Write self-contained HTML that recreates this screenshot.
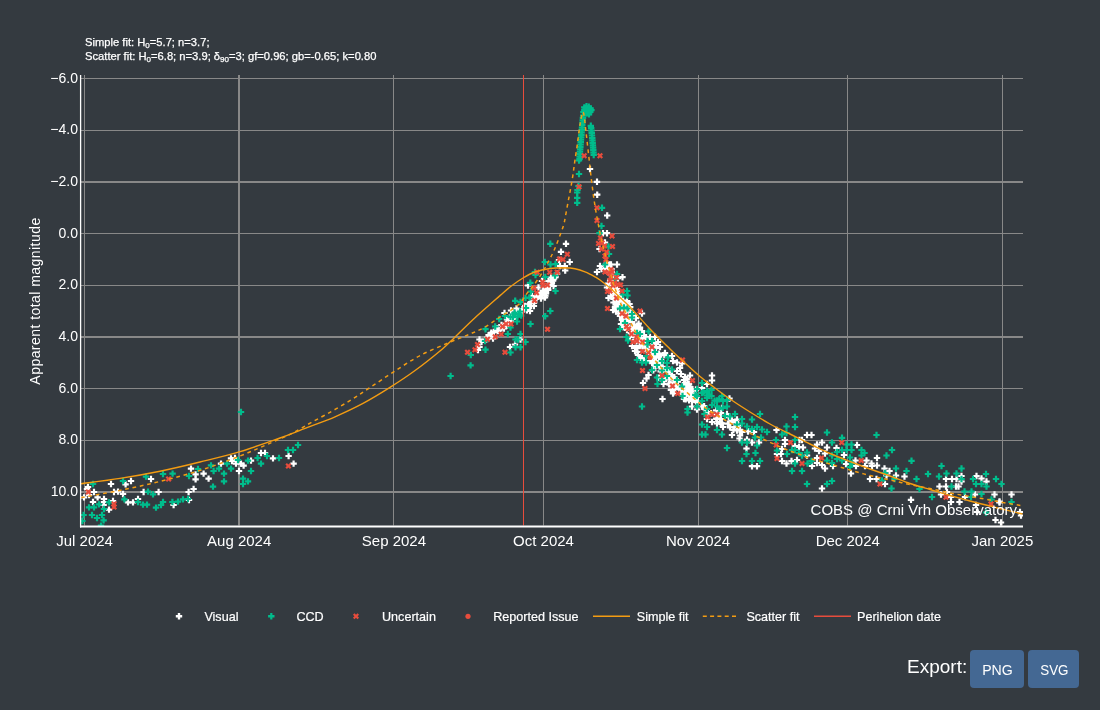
<!DOCTYPE html>
<html lang="en"><head><meta charset="utf-8"><title>Comet light curve</title>
<style>
html,body{margin:0;padding:0;background:#343a40;}
body{width:1100px;height:710px;overflow:hidden;font-family:"Liberation Sans",sans-serif;}
svg{display:block;position:absolute;left:0;top:0;will-change:transform;}
svg text{font-family:"Liberation Sans",sans-serif;}
</style></head><body>
<svg width="1100" height="710" viewBox="0 0 1100 710">
<rect x="0" y="0" width="1100" height="710" fill="#343a40"/>
<rect x="84" y="75" width="1" height="450.5" fill="#888888"/>
<rect x="238" y="75" width="2" height="450.5" fill="#888888"/>
<rect x="393" y="75" width="1" height="450.5" fill="#888888"/>
<rect x="543" y="75" width="1" height="450.5" fill="#888888"/>
<rect x="698" y="75" width="1" height="450.5" fill="#888888"/>
<rect x="847" y="75" width="1" height="450.5" fill="#888888"/>
<rect x="1002" y="75" width="1" height="450.5" fill="#888888"/>
<rect x="81" y="78" width="942" height="1" fill="#888888"/>
<rect x="81" y="130" width="942" height="1" fill="#888888"/>
<rect x="81" y="181" width="942" height="2" fill="#888888"/>
<rect x="81" y="233" width="942" height="1" fill="#888888"/>
<rect x="81" y="285" width="942" height="1" fill="#888888"/>
<rect x="81" y="336" width="942" height="2" fill="#888888"/>
<rect x="81" y="388" width="942" height="1" fill="#888888"/>
<rect x="81" y="440" width="942" height="1" fill="#888888"/>
<rect x="81" y="491" width="942" height="2" fill="#888888"/>
<clipPath id="pc"><rect x="81" y="75" width="942" height="451.5"/></clipPath><g clip-path="url(#pc)">
<path d="M482.2,338.5H484.3V336.4H486.5V338.5H488.7V340.7H486.5V342.9H484.3V340.7H482.2Z" fill="#ffffff"/>
<path d="M483.9,337.9H486.1V335.7H488.3V337.9H490.4V340.1H488.3V342.2H486.1V340.1H483.9Z" fill="#ffffff"/>
<path d="M485.4,334.0H487.5V331.9H489.7V334.0H491.8V336.2H489.7V338.3H487.5V336.2H485.4Z" fill="#ffffff"/>
<path d="M487.7,333.2H489.8V331.1H492.0V333.2H494.2V335.4H492.0V337.6H489.8V335.4H487.7Z" fill="#ffffff"/>
<path d="M488.1,331.7H490.2V329.6H492.4V331.7H494.6V333.9H492.4V336.0H490.2V333.9H488.1Z" fill="#ffffff"/>
<path d="M490.6,330.8H492.7V328.7H494.9V330.8H497.1V333.0H494.9V335.2H492.7V333.0H490.6Z" fill="#ffffff"/>
<path d="M493.2,329.0H495.3V326.9H497.5V329.0H499.7V331.2H497.5V333.4H495.3V331.2H493.2Z" fill="#ffffff"/>
<path d="M494.1,327.0H496.2V324.9H498.4V327.0H500.5V329.2H498.4V331.4H496.2V329.2H494.1Z" fill="#ffffff"/>
<path d="M498.4,327.2H500.5V325.1H502.7V327.2H504.8V329.4H502.7V331.5H500.5V329.4H498.4Z" fill="#ffffff"/>
<path d="M498.2,324.0H500.4V321.8H502.6V324.0H504.7V326.2H502.6V328.3H500.4V326.2H498.2Z" fill="#ffffff"/>
<path d="M503.4,324.7H505.6V322.5H507.8V324.7H509.9V326.9H507.8V329.0H505.6V326.9H503.4Z" fill="#ffffff"/>
<path d="M502.8,322.5H504.9V320.4H507.1V322.5H509.2V324.7H507.1V326.9H504.9V324.7H502.8Z" fill="#ffffff"/>
<path d="M504.5,321.4H506.6V319.3H508.8V321.4H510.9V323.6H508.8V325.7H506.6V323.6H504.5Z" fill="#ffffff"/>
<path d="M507.6,318.9H509.7V316.8H511.9V318.9H514.1V321.1H511.9V323.3H509.7V321.1H507.6Z" fill="#ffffff"/>
<path d="M506.5,316.1H508.7V314.0H510.9V316.1H513.0V318.3H510.9V320.4H508.7V318.3H506.5Z" fill="#ffffff"/>
<path d="M509.3,315.1H511.4V312.9H513.6V315.1H515.8V317.3H513.6V319.4H511.4V317.3H509.3Z" fill="#ffffff"/>
<path d="M512.5,314.7H514.7V312.6H516.9V314.7H519.0V316.9H516.9V319.1H514.7V316.9H512.5Z" fill="#ffffff"/>
<path d="M513.6,313.5H515.7V311.4H517.9V313.5H520.1V315.7H517.9V317.9H515.7V315.7H513.6Z" fill="#ffffff"/>
<path d="M515.5,310.3H517.7V308.1H519.9V310.3H522.0V312.5H519.9V314.6H517.7V312.5H515.5Z" fill="#ffffff"/>
<path d="M518.4,310.5H520.5V308.3H522.7V310.5H524.8V312.7H522.7V314.8H520.5V312.7H518.4Z" fill="#ffffff"/>
<path d="M519.1,308.0H521.3V305.9H523.5V308.0H525.6V310.2H523.5V312.4H521.3V310.2H519.1Z" fill="#ffffff"/>
<path d="M523.6,309.1H525.8V307.0H528.0V309.1H530.1V311.3H528.0V313.5H525.8V311.3H523.6Z" fill="#ffffff"/>
<path d="M522.0,304.8H524.1V302.7H526.3V304.8H528.5V307.0H526.3V309.1H524.1V307.0H522.0Z" fill="#ffffff"/>
<path d="M525.6,303.2H527.8V301.0H530.0V303.2H532.1V305.4H530.0V307.5H527.8V305.4H525.6Z" fill="#ffffff"/>
<path d="M527.1,301.8H529.3V299.7H531.5V301.8H533.6V304.0H531.5V306.1H529.3V304.0H527.1Z" fill="#ffffff"/>
<path d="M530.6,304.9H532.8V302.7H535.0V304.9H537.1V307.1H535.0V309.2H532.8V307.1H530.6Z" fill="#ffffff"/>
<path d="M531.0,300.2H533.1V298.1H535.3V300.2H537.4V302.4H535.3V304.6H533.1V302.4H531.0Z" fill="#ffffff"/>
<path d="M532.4,297.9H534.5V295.8H536.7V297.9H538.9V300.1H536.7V302.3H534.5V300.1H532.4Z" fill="#ffffff"/>
<path d="M533.2,296.8H535.3V294.7H537.5V296.8H539.7V299.0H537.5V301.1H535.3V299.0H533.2Z" fill="#ffffff"/>
<path d="M535.4,293.8H537.6V291.6H539.8V293.8H541.9V296.0H539.8V298.1H537.6V296.0H535.4Z" fill="#ffffff"/>
<path d="M538.8,293.0H540.9V290.8H543.1V293.0H545.2V295.2H543.1V297.3H540.9V295.2H538.8Z" fill="#ffffff"/>
<path d="M542.1,294.5H544.2V292.4H546.4V294.5H548.6V296.7H546.4V298.9H544.2V296.7H542.1Z" fill="#ffffff"/>
<path d="M539.9,289.4H542.1V287.2H544.3V289.4H546.4V291.6H544.3V293.7H542.1V291.6H539.9Z" fill="#ffffff"/>
<path d="M544.9,288.9H547.0V286.8H549.2V288.9H551.4V291.1H549.2V293.2H547.0V291.1H544.9Z" fill="#ffffff"/>
<path d="M544.7,287.2H546.8V285.1H549.0V287.2H551.2V289.4H549.0V291.6H546.8V289.4H544.7Z" fill="#ffffff"/>
<path d="M546.2,284.7H548.3V282.6H550.5V284.7H552.7V286.9H550.5V289.1H548.3V286.9H546.2Z" fill="#ffffff"/>
<path d="M550.3,284.9H552.5V282.7H554.7V284.9H556.8V287.1H554.7V289.2H552.5V287.1H550.3Z" fill="#ffffff"/>
<path d="M548.6,281.8H550.8V279.7H553.0V281.8H555.1V284.0H553.0V286.2H550.8V284.0H548.6Z" fill="#ffffff"/>
<path d="M549.8,279.5H551.9V277.4H554.1V279.5H556.3V281.7H554.1V283.8H551.9V281.7H549.8Z" fill="#ffffff"/>
<path d="M550.8,277.2H552.9V275.0H555.1V277.2H557.3V279.4H555.1V281.5H552.9V279.4H550.8Z" fill="#ffffff"/>
<path d="M552.2,276.0H554.3V273.8H556.5V276.0H558.7V278.2H556.5V280.3H554.3V278.2H552.2Z" fill="#ffffff"/>
<path d="M553.8,272.6H556.0V270.4H558.2V272.6H560.3V274.8H558.2V276.9H556.0V274.8H553.8Z" fill="#ffffff"/>
<path d="M603.6,262.2H605.7V260.0H607.9V262.2H610.1V264.4H607.9V266.5H605.7V264.4H603.6Z" fill="#ffffff"/>
<path d="M602.6,264.3H604.8V262.2H607.0V264.3H609.1V266.5H607.0V268.6H604.8V266.5H602.6Z" fill="#ffffff"/>
<path d="M606.0,263.4H608.2V261.3H610.4V263.4H612.5V265.6H610.4V267.8H608.2V265.6H606.0Z" fill="#ffffff"/>
<path d="M604.1,265.9H606.3V263.8H608.5V265.9H610.6V268.1H608.5V270.2H606.3V268.1H604.1Z" fill="#ffffff"/>
<path d="M604.2,266.8H606.3V264.7H608.5V266.8H610.7V269.0H608.5V271.2H606.3V269.0H604.2Z" fill="#ffffff"/>
<path d="M606.1,266.9H608.3V264.7H610.5V266.9H612.6V269.1H610.5V271.2H608.3V269.1H606.1Z" fill="#ffffff"/>
<path d="M602.6,268.9H604.7V266.8H606.9V268.9H609.1V271.1H606.9V273.3H604.7V271.1H602.6Z" fill="#ffffff"/>
<path d="M608.3,268.0H610.4V265.8H612.6V268.0H614.7V270.2H612.6V272.3H610.4V270.2H608.3Z" fill="#ffffff"/>
<path d="M605.9,269.8H608.0V267.6H610.2V269.8H612.3V272.0H610.2V274.1H608.0V272.0H605.9Z" fill="#ffffff"/>
<path d="M605.2,271.3H607.4V269.2H609.6V271.3H611.7V273.5H609.6V275.6H607.4V273.5H605.2Z" fill="#ffffff"/>
<path d="M606.6,272.0H608.8V269.9H611.0V272.0H613.1V274.2H611.0V276.4H608.8V274.2H606.6Z" fill="#ffffff"/>
<path d="M606.7,272.9H608.9V270.7H611.1V272.9H613.2V275.1H611.1V277.2H608.9V275.1H606.7Z" fill="#ffffff"/>
<path d="M610.5,272.8H612.6V270.6H614.8V272.8H617.0V275.0H614.8V277.1H612.6V275.0H610.5Z" fill="#ffffff"/>
<path d="M609.0,274.5H611.2V272.4H613.4V274.5H615.5V276.7H613.4V278.9H611.2V276.7H609.0Z" fill="#ffffff"/>
<path d="M609.4,275.3H611.5V273.1H613.7V275.3H615.9V277.5H613.7V279.6H611.5V277.5H609.4Z" fill="#ffffff"/>
<path d="M609.4,275.8H611.5V273.7H613.7V275.8H615.9V278.0H613.7V280.2H611.5V278.0H609.4Z" fill="#ffffff"/>
<path d="M607.2,278.4H609.3V276.2H611.5V278.4H613.7V280.6H611.5V282.7H609.3V280.6H607.2Z" fill="#ffffff"/>
<path d="M614.7,277.1H616.9V275.0H619.1V277.1H621.2V279.3H619.1V281.5H616.9V279.3H614.7Z" fill="#ffffff"/>
<path d="M609.9,279.1H612.0V277.0H614.2V279.1H616.4V281.3H614.2V283.4H612.0V281.3H609.9Z" fill="#ffffff"/>
<path d="M608.2,280.9H610.4V278.7H612.6V280.9H614.7V283.1H612.6V285.2H610.4V283.1H608.2Z" fill="#ffffff"/>
<path d="M607.3,281.6H609.4V279.4H611.6V281.6H613.8V283.8H611.6V285.9H609.4V283.8H607.3Z" fill="#ffffff"/>
<path d="M608.6,282.3H610.8V280.2H613.0V282.3H615.1V284.5H613.0V286.7H610.8V284.5H608.6Z" fill="#ffffff"/>
<path d="M609.8,283.2H611.9V281.1H614.1V283.2H616.3V285.4H614.1V287.6H611.9V285.4H609.8Z" fill="#ffffff"/>
<path d="M610.1,284.0H612.2V281.8H614.4V284.0H616.6V286.2H614.4V288.3H612.2V286.2H610.1Z" fill="#ffffff"/>
<path d="M610.9,284.7H613.0V282.6H615.2V284.7H617.4V286.9H615.2V289.0H613.0V286.9H610.9Z" fill="#ffffff"/>
<path d="M610.5,286.7H612.6V284.5H614.8V286.7H617.0V288.9H614.8V291.0H612.6V288.9H610.5Z" fill="#ffffff"/>
<path d="M609.9,287.7H612.0V285.5H614.2V287.7H616.4V289.9H614.2V292.0H612.0V289.9H609.9Z" fill="#ffffff"/>
<path d="M609.7,288.5H611.8V286.4H614.0V288.5H616.1V290.7H614.0V292.9H611.8V290.7H609.7Z" fill="#ffffff"/>
<path d="M607.6,290.3H609.8V288.2H612.0V290.3H614.1V292.5H612.0V294.7H609.8V292.5H607.6Z" fill="#ffffff"/>
<path d="M608.3,291.8H610.4V289.7H612.6V291.8H614.8V294.0H612.6V296.2H610.4V294.0H608.3Z" fill="#ffffff"/>
<path d="M613.8,290.3H616.0V288.2H618.2V290.3H620.3V292.5H618.2V294.6H616.0V292.5H613.8Z" fill="#ffffff"/>
<path d="M612.6,291.4H614.8V289.3H617.0V291.4H619.1V293.6H617.0V295.7H614.8V293.6H612.6Z" fill="#ffffff"/>
<path d="M613.7,292.3H615.8V290.2H618.0V292.3H620.2V294.5H618.0V296.7H615.8V294.5H613.7Z" fill="#ffffff"/>
<path d="M607.8,295.3H610.0V293.2H612.2V295.3H614.3V297.5H612.2V299.7H610.0V297.5H607.8Z" fill="#ffffff"/>
<path d="M610.2,295.3H612.4V293.2H614.6V295.3H616.7V297.5H614.6V299.7H612.4V297.5H610.2Z" fill="#ffffff"/>
<path d="M615.2,294.7H617.4V292.6H619.6V294.7H621.7V296.9H619.6V299.0H617.4V296.9H615.2Z" fill="#ffffff"/>
<path d="M611.0,297.7H613.1V295.6H615.3V297.7H617.4V299.9H615.3V302.1H613.1V299.9H611.0Z" fill="#ffffff"/>
<path d="M614.5,298.0H616.6V295.8H618.8V298.0H620.9V300.2H618.8V302.3H616.6V300.2H614.5Z" fill="#ffffff"/>
<path d="M616.2,298.3H618.3V296.1H620.5V298.3H622.6V300.5H620.5V302.6H618.3V300.5H616.2Z" fill="#ffffff"/>
<path d="M617.8,298.2H619.9V296.1H622.1V298.2H624.2V300.4H622.1V302.6H619.9V300.4H617.8Z" fill="#ffffff"/>
<path d="M615.3,300.0H617.4V297.8H619.6V300.0H621.8V302.2H619.6V304.3H617.4V302.2H615.3Z" fill="#ffffff"/>
<path d="M619.9,299.5H622.0V297.3H624.2V299.5H626.3V301.7H624.2V303.8H622.0V301.7H619.9Z" fill="#ffffff"/>
<path d="M615.8,302.3H617.9V300.1H620.1V302.3H622.3V304.5H620.1V306.6H617.9V304.5H615.8Z" fill="#ffffff"/>
<path d="M612.4,306.0H614.5V303.8H616.7V306.0H618.8V308.2H616.7V310.3H614.5V308.2H612.4Z" fill="#ffffff"/>
<path d="M616.0,305.0H618.2V302.8H620.4V305.0H622.5V307.2H620.4V309.3H618.2V307.2H616.0Z" fill="#ffffff"/>
<path d="M623.2,302.2H625.3V300.0H627.5V302.2H629.6V304.4H627.5V306.5H625.3V304.4H623.2Z" fill="#ffffff"/>
<path d="M621.1,303.8H623.3V301.6H625.5V303.8H627.6V306.0H625.5V308.1H623.3V306.0H621.1Z" fill="#ffffff"/>
<path d="M619.1,305.7H621.3V303.6H623.5V305.7H625.6V307.9H623.5V310.1H621.3V307.9H619.1Z" fill="#ffffff"/>
<path d="M619.7,306.5H621.9V304.4H624.1V306.5H626.2V308.7H624.1V310.9H621.9V308.7H619.7Z" fill="#ffffff"/>
<path d="M617.9,309.4H620.1V307.2H622.3V309.4H624.4V311.6H622.3V313.7H620.1V311.6H617.9Z" fill="#ffffff"/>
<path d="M626.9,306.0H629.0V303.9H631.2V306.0H633.4V308.2H631.2V310.3H629.0V308.2H626.9Z" fill="#ffffff"/>
<path d="M619.0,311.4H621.1V309.2H623.3V311.4H625.5V313.6H623.3V315.7H621.1V313.6H619.0Z" fill="#ffffff"/>
<path d="M622.9,310.4H625.1V308.2H627.3V310.4H629.4V312.6H627.3V314.7H625.1V312.6H622.9Z" fill="#ffffff"/>
<path d="M620.2,312.1H622.4V309.9H624.6V312.1H626.7V314.3H624.6V316.4H622.4V314.3H620.2Z" fill="#ffffff"/>
<path d="M621.1,312.7H623.2V310.6H625.4V312.7H627.5V314.9H625.4V317.1H623.2V314.9H621.1Z" fill="#ffffff"/>
<path d="M619.2,315.6H621.3V313.5H623.5V315.6H625.7V317.8H623.5V320.0H621.3V317.8H619.2Z" fill="#ffffff"/>
<path d="M627.5,312.3H629.6V310.1H631.8V312.3H634.0V314.5H631.8V316.6H629.6V314.5H627.5Z" fill="#ffffff"/>
<path d="M623.3,315.6H625.5V313.4H627.7V315.6H629.8V317.8H627.7V319.9H625.5V317.8H623.3Z" fill="#ffffff"/>
<path d="M627.3,313.8H629.4V311.6H631.6V313.8H633.8V316.0H631.6V318.1H629.4V316.0H627.3Z" fill="#ffffff"/>
<path d="M630.1,314.3H632.2V312.2H634.4V314.3H636.5V316.5H634.4V318.7H632.2V316.5H630.1Z" fill="#ffffff"/>
<path d="M627.0,317.0H629.1V314.8H631.3V317.0H633.4V319.2H631.3V321.3H629.1V319.2H627.0Z" fill="#ffffff"/>
<path d="M625.4,318.9H627.5V316.8H629.7V318.9H631.9V321.1H629.7V323.2H627.5V321.1H625.4Z" fill="#ffffff"/>
<path d="M623.5,320.5H625.6V318.3H627.8V320.5H630.0V322.7H627.8V324.8H625.6V322.7H623.5Z" fill="#ffffff"/>
<path d="M632.6,317.0H634.8V314.9H637.0V317.0H639.1V319.2H637.0V321.4H634.8V319.2H632.6Z" fill="#ffffff"/>
<path d="M622.4,323.3H624.6V321.1H626.8V323.3H628.9V325.5H626.8V327.6H624.6V325.5H622.4Z" fill="#ffffff"/>
<path d="M628.6,321.0H630.8V318.9H633.0V321.0H635.1V323.2H633.0V325.3H630.8V323.2H628.6Z" fill="#ffffff"/>
<path d="M623.9,324.4H626.1V322.3H628.3V324.4H630.4V326.6H628.3V328.7H626.1V326.6H623.9Z" fill="#ffffff"/>
<path d="M623.2,326.6H625.4V324.5H627.6V326.6H629.7V328.8H627.6V330.9H625.4V328.8H623.2Z" fill="#ffffff"/>
<path d="M624.7,326.2H626.9V324.1H629.1V326.2H631.2V328.4H629.1V330.6H626.9V328.4H624.7Z" fill="#ffffff"/>
<path d="M635.4,322.6H637.5V320.4H639.7V322.6H641.9V324.8H639.7V326.9H637.5V324.8H635.4Z" fill="#ffffff"/>
<path d="M630.9,325.6H633.0V323.5H635.2V325.6H637.3V327.8H635.2V329.9H633.0V327.8H630.9Z" fill="#ffffff"/>
<path d="M630.2,326.7H632.3V324.5H634.5V326.7H636.6V328.9H634.5V331.0H632.3V328.9H630.2Z" fill="#ffffff"/>
<path d="M632.6,327.5H634.8V325.4H637.0V327.5H639.1V329.7H637.0V331.8H634.8V329.7H632.6Z" fill="#ffffff"/>
<path d="M633.8,327.9H636.0V325.8H638.2V327.9H640.3V330.1H638.2V332.3H636.0V330.1H633.8Z" fill="#ffffff"/>
<path d="M627.7,332.0H629.9V329.8H632.1V332.0H634.2V334.2H632.1V336.3H629.9V334.2H627.7Z" fill="#ffffff"/>
<path d="M635.5,328.4H637.6V326.3H639.8V328.4H641.9V330.6H639.8V332.8H637.6V330.6H635.5Z" fill="#ffffff"/>
<path d="M632.8,331.2H634.9V329.0H637.1V331.2H639.3V333.4H637.1V335.5H634.9V333.4H632.8Z" fill="#ffffff"/>
<path d="M630.9,333.7H633.0V331.6H635.2V333.7H637.4V335.9H635.2V338.1H633.0V335.9H630.9Z" fill="#ffffff"/>
<path d="M634.5,332.5H636.6V330.3H638.8V332.5H641.0V334.7H638.8V336.8H636.6V334.7H634.5Z" fill="#ffffff"/>
<path d="M633.3,335.0H635.4V332.9H637.6V335.0H639.8V337.2H637.6V339.4H635.4V337.2H633.3Z" fill="#ffffff"/>
<path d="M637.8,333.0H639.9V330.8H642.1V333.0H644.3V335.2H642.1V337.3H639.9V335.2H637.8Z" fill="#ffffff"/>
<path d="M634.0,336.9H636.2V334.7H638.4V336.9H640.5V339.1H638.4V341.2H636.2V339.1H634.0Z" fill="#ffffff"/>
<path d="M632.4,338.4H634.5V336.2H636.7V338.4H638.9V340.6H636.7V342.7H634.5V340.6H632.4Z" fill="#ffffff"/>
<path d="M637.4,336.8H639.5V334.6H641.7V336.8H643.9V339.0H641.7V341.1H639.5V339.0H637.4Z" fill="#ffffff"/>
<path d="M633.3,340.3H635.4V338.1H637.6V340.3H639.8V342.5H637.6V344.6H635.4V342.5H633.3Z" fill="#ffffff"/>
<path d="M636.1,339.5H638.3V337.3H640.5V339.5H642.6V341.7H640.5V343.8H638.3V341.7H636.1Z" fill="#ffffff"/>
<path d="M636.3,340.3H638.5V338.2H640.7V340.3H642.8V342.5H640.7V344.7H638.5V342.5H636.3Z" fill="#ffffff"/>
<path d="M640.3,339.4H642.5V337.2H644.7V339.4H646.8V341.6H644.7V343.7H642.5V341.6H640.3Z" fill="#ffffff"/>
<path d="M642.1,339.7H644.2V337.6H646.4V339.7H648.5V341.9H646.4V344.1H644.2V341.9H642.1Z" fill="#ffffff"/>
<path d="M640.3,341.8H642.4V339.7H644.6V341.8H646.8V344.0H644.6V346.2H642.4V344.0H640.3Z" fill="#ffffff"/>
<path d="M639.2,343.8H641.3V341.7H643.5V343.8H645.6V346.0H643.5V348.2H641.3V346.0H639.2Z" fill="#ffffff"/>
<path d="M642.1,343.1H644.2V340.9H646.4V343.1H648.5V345.3H646.4V347.4H644.2V345.3H642.1Z" fill="#ffffff"/>
<path d="M641.7,344.1H643.9V342.0H646.1V344.1H648.2V346.3H646.1V348.5H643.9V346.3H641.7Z" fill="#ffffff"/>
<path d="M634.2,350.7H636.3V348.5H638.5V350.7H640.6V352.9H638.5V355.0H636.3V352.9H634.2Z" fill="#ffffff"/>
<path d="M641.2,347.2H643.3V345.1H645.5V347.2H647.7V349.4H645.5V351.6H643.3V349.4H641.2Z" fill="#ffffff"/>
<path d="M651.4,341.5H653.6V339.3H655.8V341.5H657.9V343.7H655.8V345.8H653.6V343.7H651.4Z" fill="#ffffff"/>
<path d="M647.9,345.2H650.0V343.1H652.2V345.2H654.4V347.4H652.2V349.5H650.0V347.4H647.9Z" fill="#ffffff"/>
<path d="M643.7,349.3H645.8V347.2H648.0V349.3H650.2V351.5H648.0V353.6H645.8V351.5H643.7Z" fill="#ffffff"/>
<path d="M648.6,346.9H650.7V344.8H652.9V346.9H655.0V349.1H652.9V351.3H650.7V349.1H648.6Z" fill="#ffffff"/>
<path d="M645.7,350.5H647.9V348.4H650.1V350.5H652.2V352.7H650.1V354.9H647.9V352.7H645.7Z" fill="#ffffff"/>
<path d="M638.6,357.2H640.8V355.0H643.0V357.2H645.1V359.4H643.0V361.5H640.8V359.4H638.6Z" fill="#ffffff"/>
<path d="M652.1,347.0H654.3V344.9H656.5V347.0H658.6V349.2H656.5V351.4H654.3V349.2H652.1Z" fill="#ffffff"/>
<path d="M639.4,358.9H641.6V356.7H643.8V358.9H645.9V361.1H643.8V363.2H641.6V361.1H639.4Z" fill="#ffffff"/>
<path d="M649.4,351.6H651.5V349.5H653.7V351.6H655.9V353.8H653.7V356.0H651.5V353.8H649.4Z" fill="#ffffff"/>
<path d="M648.8,353.3H650.9V351.2H653.1V353.3H655.3V355.5H653.1V357.7H650.9V355.5H648.8Z" fill="#ffffff"/>
<path d="M647.5,355.8H649.7V353.6H651.9V355.8H654.0V358.0H651.9V360.1H649.7V358.0H647.5Z" fill="#ffffff"/>
<path d="M651.9,353.3H654.0V351.2H656.2V353.3H658.4V355.5H656.2V357.7H654.0V355.5H651.9Z" fill="#ffffff"/>
<path d="M655.7,352.6H657.8V350.5H660.0V352.6H662.2V354.8H660.0V356.9H657.8V354.8H655.7Z" fill="#ffffff"/>
<path d="M651.1,356.6H653.2V354.5H655.4V356.6H657.6V358.8H655.4V361.0H653.2V358.8H651.1Z" fill="#ffffff"/>
<path d="M656.1,353.9H658.2V351.7H660.4V353.9H662.6V356.1H660.4V358.2H658.2V356.1H656.1Z" fill="#ffffff"/>
<path d="M648.9,361.8H651.0V359.7H653.2V361.8H655.3V364.0H653.2V366.2H651.0V364.0H648.9Z" fill="#ffffff"/>
<path d="M652.8,360.1H654.9V357.9H657.1V360.1H659.2V362.3H657.1V364.4H654.9V362.3H652.8Z" fill="#ffffff"/>
<path d="M661.1,354.0H663.2V351.8H665.4V354.0H667.6V356.2H665.4V358.3H663.2V356.2H661.1Z" fill="#ffffff"/>
<path d="M652.4,362.7H654.6V360.6H656.8V362.7H658.9V364.9H656.8V367.1H654.6V364.9H652.4Z" fill="#ffffff"/>
<path d="M657.8,358.8H660.0V356.7H662.2V358.8H664.3V361.0H662.2V363.1H660.0V361.0H657.8Z" fill="#ffffff"/>
<path d="M652.3,364.7H654.5V362.6H656.7V364.7H658.8V366.9H656.7V369.0H654.5V366.9H652.3Z" fill="#ffffff"/>
<path d="M657.4,361.5H659.5V359.4H661.7V361.5H663.8V363.7H661.7V365.9H659.5V363.7H657.4Z" fill="#ffffff"/>
<path d="M650.0,369.2H652.2V367.1H654.4V369.2H656.5V371.4H654.4V373.6H652.2V371.4H650.0Z" fill="#ffffff"/>
<path d="M657.1,364.9H659.2V362.8H661.4V364.9H663.6V367.1H661.4V369.3H659.2V367.1H657.1Z" fill="#ffffff"/>
<path d="M656.7,366.3H658.8V364.2H661.0V366.3H663.2V368.5H661.0V370.7H658.8V368.5H656.7Z" fill="#ffffff"/>
<path d="M659.2,365.8H661.3V363.7H663.5V365.8H665.6V368.0H663.5V370.2H661.3V368.0H659.2Z" fill="#ffffff"/>
<path d="M658.8,367.9H660.9V365.8H663.1V367.9H665.3V370.1H663.1V372.3H660.9V370.1H658.8Z" fill="#ffffff"/>
<path d="M657.5,370.2H659.6V368.0H661.8V370.2H664.0V372.4H661.8V374.5H659.6V372.4H657.5Z" fill="#ffffff"/>
<path d="M659.9,368.7H662.0V366.5H664.2V368.7H666.3V370.9H664.2V373.0H662.0V370.9H659.9Z" fill="#ffffff"/>
<path d="M659.5,370.0H661.7V367.9H663.9V370.0H666.0V372.2H663.9V374.4H661.7V372.2H659.5Z" fill="#ffffff"/>
<path d="M663.7,367.7H665.8V365.6H668.0V367.7H670.2V369.9H668.0V372.1H665.8V369.9H663.7Z" fill="#ffffff"/>
<path d="M655.8,376.5H657.9V374.4H660.1V376.5H662.3V378.7H660.1V380.9H657.9V378.7H655.8Z" fill="#ffffff"/>
<path d="M665.8,368.6H668.0V366.5H670.2V368.6H672.3V370.8H670.2V373.0H668.0V370.8H665.8Z" fill="#ffffff"/>
<path d="M658.5,376.3H660.7V374.2H662.9V376.3H665.0V378.5H662.9V380.7H660.7V378.5H658.5Z" fill="#ffffff"/>
<path d="M666.1,371.4H668.2V369.3H670.4V371.4H672.6V373.6H670.4V375.8H668.2V373.6H666.1Z" fill="#ffffff"/>
<path d="M659.1,379.0H661.2V376.9H663.4V379.0H665.5V381.2H663.4V383.3H661.2V381.2H659.1Z" fill="#ffffff"/>
<path d="M663.1,376.8H665.3V374.7H667.5V376.8H669.6V379.0H667.5V381.1H665.3V379.0H663.1Z" fill="#ffffff"/>
<path d="M660.8,380.0H663.0V377.8H665.2V380.0H667.3V382.2H665.2V384.3H663.0V382.2H660.8Z" fill="#ffffff"/>
<path d="M668.6,374.7H670.7V372.5H672.9V374.7H675.1V376.9H672.9V379.0H670.7V376.9H668.6Z" fill="#ffffff"/>
<path d="M666.1,377.6H668.2V375.4H670.4V377.6H672.6V379.8H670.4V381.9H668.2V379.8H666.1Z" fill="#ffffff"/>
<path d="M669.2,377.0H671.3V374.8H673.5V377.0H675.6V379.2H673.5V381.3H671.3V379.2H669.2Z" fill="#ffffff"/>
<path d="M670.9,376.0H673.1V373.9H675.3V376.0H677.4V378.2H675.3V380.4H673.1V378.2H670.9Z" fill="#ffffff"/>
<path d="M665.8,383.2H667.9V381.1H670.1V383.2H672.3V385.4H670.1V387.6H667.9V385.4H665.8Z" fill="#ffffff"/>
<path d="M666.8,382.6H669.0V380.5H671.2V382.6H673.3V384.8H671.2V387.0H669.0V384.8H666.8Z" fill="#ffffff"/>
<path d="M667.4,383.5H669.5V381.3H671.7V383.5H673.8V385.7H671.7V387.8H669.5V385.7H667.4Z" fill="#ffffff"/>
<path d="M670.5,381.5H672.6V379.4H674.8V381.5H677.0V383.7H674.8V385.9H672.6V383.7H670.5Z" fill="#ffffff"/>
<path d="M670.9,382.7H673.0V380.5H675.2V382.7H677.4V384.9H675.2V387.0H673.0V384.9H670.9Z" fill="#ffffff"/>
<path d="M674.7,380.5H676.8V378.3H679.0V380.5H681.1V382.7H679.0V384.8H676.8V382.7H674.7Z" fill="#ffffff"/>
<path d="M667.7,388.8H669.8V386.6H672.0V388.8H674.2V391.0H672.0V393.1H669.8V391.0H667.7Z" fill="#ffffff"/>
<path d="M672.9,385.5H675.1V383.4H677.3V385.5H679.4V387.7H677.3V389.9H675.1V387.7H672.9Z" fill="#ffffff"/>
<path d="M672.0,387.5H674.1V385.3H676.3V387.5H678.4V389.7H676.3V391.8H674.1V389.7H672.0Z" fill="#ffffff"/>
<path d="M670.3,391.3H672.5V389.1H674.7V391.3H676.8V393.5H674.7V395.6H672.5V393.5H670.3Z" fill="#ffffff"/>
<path d="M676.0,386.5H678.2V384.4H680.4V386.5H682.5V388.7H680.4V390.9H678.2V388.7H676.0Z" fill="#ffffff"/>
<path d="M684.2,378.0H686.3V375.8H688.5V378.0H690.6V380.2H688.5V382.3H686.3V380.2H684.2Z" fill="#ffffff"/>
<path d="M676.5,388.3H678.7V386.2H680.9V388.3H683.0V390.5H680.9V392.7H678.7V390.5H676.5Z" fill="#ffffff"/>
<path d="M682.5,384.0H684.6V381.8H686.8V384.0H688.9V386.2H686.8V388.3H684.6V386.2H682.5Z" fill="#ffffff"/>
<path d="M678.2,390.5H680.3V388.4H682.5V390.5H684.7V392.7H682.5V394.8H680.3V392.7H678.2Z" fill="#ffffff"/>
<path d="M685.1,383.2H687.3V381.1H689.5V383.2H691.6V385.4H689.5V387.6H687.3V385.4H685.1Z" fill="#ffffff"/>
<path d="M681.6,389.8H683.7V387.7H685.9V389.8H688.1V392.0H685.9V394.1H683.7V392.0H681.6Z" fill="#ffffff"/>
<path d="M679.2,393.2H681.3V391.1H683.5V393.2H685.6V395.4H683.5V397.6H681.3V395.4H679.2Z" fill="#ffffff"/>
<path d="M687.0,385.9H689.2V383.8H691.4V385.9H693.5V388.1H691.4V390.3H689.2V388.1H687.0Z" fill="#ffffff"/>
<path d="M683.8,390.9H686.0V388.7H688.2V390.9H690.3V393.1H688.2V395.2H686.0V393.1H683.8Z" fill="#ffffff"/>
<path d="M682.9,393.1H685.0V391.0H687.2V393.1H689.3V395.3H687.2V397.4H685.0V395.3H682.9Z" fill="#ffffff"/>
<path d="M684.6,392.5H686.7V390.3H688.9V392.5H691.1V394.7H688.9V396.8H686.7V394.7H684.6Z" fill="#ffffff"/>
<path d="M687.8,390.4H689.9V388.3H692.1V390.4H694.2V392.6H692.1V394.8H689.9V392.6H687.8Z" fill="#ffffff"/>
<path d="M682.4,398.1H684.6V396.0H686.8V398.1H688.9V400.3H686.8V402.5H684.6V400.3H682.4Z" fill="#ffffff"/>
<path d="M692.7,388.5H694.8V386.3H697.0V388.5H699.2V390.7H697.0V392.8H694.8V390.7H692.7Z" fill="#ffffff"/>
<path d="M687.5,395.5H689.6V393.4H691.8V395.5H694.0V397.7H691.8V399.8H689.6V397.7H687.5Z" fill="#ffffff"/>
<path d="M685.8,399.3H688.0V397.1H690.2V399.3H692.3V401.5H690.2V403.6H688.0V401.5H685.8Z" fill="#ffffff"/>
<path d="M691.4,393.7H693.6V391.6H695.8V393.7H697.9V395.9H695.8V398.1H693.6V395.9H691.4Z" fill="#ffffff"/>
<path d="M689.6,398.7H691.7V396.6H693.9V398.7H696.0V400.9H693.9V403.0H691.7V400.9H689.6Z" fill="#ffffff"/>
<path d="M693.5,395.6H695.6V393.5H697.8V395.6H700.0V397.8H697.8V400.0H695.6V397.8H693.5Z" fill="#ffffff"/>
<path d="M692.6,398.1H694.8V396.0H697.0V398.1H699.1V400.3H697.0V402.5H694.8V400.3H692.6Z" fill="#ffffff"/>
<path d="M692.3,399.1H694.4V397.0H696.6V399.1H698.7V401.3H696.6V403.4H694.4V401.3H692.3Z" fill="#ffffff"/>
<path d="M692.9,400.0H695.0V397.9H697.2V400.0H699.3V402.2H697.2V404.4H695.0V402.2H692.9Z" fill="#ffffff"/>
<path d="M700.9,405.0H703.0V402.9H705.2V405.0H707.3V407.2H705.2V409.3H703.0V407.2H700.9Z" fill="#ffffff"/>
<path d="M701.6,407.8H703.7V405.7H705.9V407.8H708.1V410.0H705.9V412.1H703.7V410.0H701.6Z" fill="#ffffff"/>
<path d="M702.5,408.3H704.7V406.1H706.9V408.3H709.0V410.5H706.9V412.6H704.7V410.5H702.5Z" fill="#ffffff"/>
<path d="M704.2,411.0H706.3V408.9H708.5V411.0H710.7V413.2H708.5V415.3H706.3V413.2H704.2Z" fill="#ffffff"/>
<path d="M704.6,412.8H706.8V410.6H709.0V412.8H711.1V415.0H709.0V417.1H706.8V415.0H704.6Z" fill="#ffffff"/>
<path d="M707.9,412.2H710.0V410.1H712.2V412.2H714.4V414.4H712.2V416.6H710.0V414.4H707.9Z" fill="#ffffff"/>
<path d="M713.0,409.3H715.2V407.1H717.4V409.3H719.5V411.5H717.4V413.6H715.2V411.5H713.0Z" fill="#ffffff"/>
<path d="M712.8,413.8H714.9V411.7H717.1V413.8H719.3V416.0H717.1V418.2H714.9V416.0H712.8Z" fill="#ffffff"/>
<path d="M713.0,417.6H715.1V415.4H717.3V417.6H719.5V419.8H717.3V421.9H715.1V419.8H713.0Z" fill="#ffffff"/>
<path d="M716.3,414.7H718.4V412.5H720.6V414.7H722.8V416.9H720.6V419.0H718.4V416.9H716.3Z" fill="#ffffff"/>
<path d="M716.8,420.8H718.9V418.6H721.1V420.8H723.3V423.0H721.1V425.1H718.9V423.0H716.8Z" fill="#ffffff"/>
<path d="M717.5,422.3H719.6V420.2H721.8V422.3H724.0V424.5H721.8V426.7H719.6V424.5H717.5Z" fill="#ffffff"/>
<path d="M718.5,422.2H720.7V420.0H722.9V422.2H725.0V424.4H722.9V426.5H720.7V424.4H718.5Z" fill="#ffffff"/>
<path d="M725.6,416.1H727.7V414.0H729.9V416.1H732.0V418.3H729.9V420.5H727.7V418.3H725.6Z" fill="#ffffff"/>
<path d="M724.6,422.6H726.8V420.4H729.0V422.6H731.1V424.8H729.0V426.9H726.8V424.8H724.6Z" fill="#ffffff"/>
<path d="M727.1,421.5H729.2V419.3H731.4V421.5H733.6V423.7H731.4V425.8H729.2V423.7H727.1Z" fill="#ffffff"/>
<path d="M726.8,426.2H728.9V424.0H731.1V426.2H733.3V428.4H731.1V430.5H728.9V428.4H726.8Z" fill="#ffffff"/>
<path d="M732.8,421.0H734.9V418.8H737.1V421.0H739.2V423.2H737.1V425.3H734.9V423.2H732.8Z" fill="#ffffff"/>
<path d="M730.2,428.9H732.3V426.8H734.5V428.9H736.6V431.1H734.5V433.3H732.3V431.1H730.2Z" fill="#ffffff"/>
<path d="M735.2,424.4H737.4V422.3H739.6V424.4H741.7V426.6H739.6V428.8H737.4V426.6H735.2Z" fill="#ffffff"/>
<path d="M734.1,428.8H736.2V426.7H738.4V428.8H740.6V431.0H738.4V433.2H736.2V431.0H734.1Z" fill="#ffffff"/>
<path d="M736.7,428.9H738.9V426.7H741.1V428.9H743.2V431.1H741.1V433.2H738.9V431.1H736.7Z" fill="#ffffff"/>
<path d="M84.8,485.9H86.9V483.8H89.1V485.9H91.2V488.1H89.1V490.2H86.9V488.1H84.8Z" fill="#ffffff"/>
<path d="M83.8,487.9H85.9V485.8H88.1V487.9H90.2V490.1H88.1V492.2H85.9V490.1H83.8Z" fill="#ffffff"/>
<path d="M90.8,490.9H92.9V488.8H95.1V490.9H97.2V493.1H95.1V495.2H92.9V493.1H90.8Z" fill="#ffffff"/>
<path d="M80.8,496.3H82.9V494.2H85.1V496.3H87.2V498.5H85.1V500.6H82.9V498.5H80.8Z" fill="#ffffff"/>
<path d="M85.8,493.9H87.9V491.8H90.1V493.9H92.2V496.1H90.1V498.2H87.9V496.1H85.8Z" fill="#ffffff"/>
<path d="M94.4,496.3H96.5V494.2H98.7V496.3H100.8V498.5H98.7V500.6H96.5V498.5H94.4Z" fill="#ffffff"/>
<path d="M89.8,500.9H91.9V498.8H94.1V500.9H96.2V503.1H94.1V505.2H91.9V503.1H89.8Z" fill="#ffffff"/>
<path d="M100.8,497.9H102.9V495.8H105.1V497.9H107.2V500.1H105.1V502.2H102.9V500.1H100.8Z" fill="#ffffff"/>
<path d="M100.8,500.9H102.9V498.8H105.1V500.9H107.2V503.1H105.1V505.2H102.9V503.1H100.8Z" fill="#ffffff"/>
<path d="M100.4,503.9H102.5V501.8H104.7V503.9H106.8V506.1H104.7V508.2H102.5V506.1H100.4Z" fill="#ffffff"/>
<path d="M105.8,508.5H107.9V506.4H110.1V508.5H112.2V510.7H110.1V512.8H107.9V510.7H105.8Z" fill="#ffffff"/>
<path d="M109.8,499.9H111.9V497.8H114.1V499.9H116.2V502.1H114.1V504.2H111.9V502.1H109.8Z" fill="#ffffff"/>
<path d="M107.8,482.9H109.9V480.8H112.1V482.9H114.2V485.1H112.1V487.2H109.9V485.1H107.8Z" fill="#ffffff"/>
<path d="M110.8,490.9H112.9V488.8H115.1V490.9H117.2V493.1H115.1V495.2H112.9V493.1H110.8Z" fill="#ffffff"/>
<path d="M114.8,490.5H116.9V488.4H119.1V490.5H121.2V492.7H119.1V494.8H116.9V492.7H114.8Z" fill="#ffffff"/>
<path d="M119.8,492.9H121.9V490.8H124.1V492.9H126.2V495.1H124.1V497.2H121.9V495.1H119.8Z" fill="#ffffff"/>
<path d="M122.4,483.3H124.5V481.2H126.7V483.3H128.8V485.5H126.7V487.6H124.5V485.5H122.4Z" fill="#ffffff"/>
<path d="M127.8,479.9H129.9V477.8H132.1V479.9H134.2V482.1H132.1V484.2H129.9V482.1H127.8Z" fill="#ffffff"/>
<path d="M124.8,501.3H126.9V499.2H129.1V501.3H131.2V503.5H129.1V505.6H126.9V503.5H124.8Z" fill="#ffffff"/>
<path d="M129.8,501.3H131.9V499.2H134.1V501.3H136.2V503.5H134.1V505.6H131.9V503.5H129.8Z" fill="#ffffff"/>
<path d="M134.8,497.9H136.9V495.8H139.1V497.9H141.2V500.1H139.1V502.2H136.9V500.1H134.8Z" fill="#ffffff"/>
<path d="M140.4,490.9H142.5V488.8H144.7V490.9H146.8V493.1H144.7V495.2H142.5V493.1H140.4Z" fill="#ffffff"/>
<path d="M155.4,490.9H157.5V488.8H159.7V490.9H161.8V493.1H159.7V495.2H157.5V493.1H155.4Z" fill="#ffffff"/>
<path d="M147.8,477.9H149.9V475.8H152.1V477.9H154.2V480.1H152.1V482.2H149.9V480.1H147.8Z" fill="#ffffff"/>
<path d="M170.4,503.9H172.5V501.8H174.7V503.9H176.8V506.1H174.7V508.2H172.5V506.1H170.4Z" fill="#ffffff"/>
<path d="M185.8,498.9H187.9V496.8H190.1V498.9H192.2V501.1H190.1V503.2H187.9V501.1H185.8Z" fill="#ffffff"/>
<path d="M185.4,490.9H187.5V488.8H189.7V490.9H191.8V493.1H189.7V495.2H187.5V493.1H185.4Z" fill="#ffffff"/>
<path d="M190.4,487.9H192.5V485.8H194.7V487.9H196.8V490.1H194.7V492.2H192.5V490.1H190.4Z" fill="#ffffff"/>
<path d="M187.8,467.5H189.9V465.4H192.1V467.5H194.2V469.7H192.1V471.8H189.9V469.7H187.8Z" fill="#ffffff"/>
<path d="M192.4,473.3H194.5V471.2H196.7V473.3H198.8V475.5H196.7V477.6H194.5V475.5H192.4Z" fill="#ffffff"/>
<path d="M192.4,478.3H194.5V476.2H196.7V478.3H198.8V480.5H196.7V482.6H194.5V480.5H192.4Z" fill="#ffffff"/>
<path d="M200.4,472.5H202.5V470.4H204.7V472.5H206.8V474.7H204.7V476.8H202.5V474.7H200.4Z" fill="#ffffff"/>
<path d="M205.4,477.5H207.5V475.4H209.7V477.5H211.8V479.7H209.7V481.8H207.5V479.7H205.4Z" fill="#ffffff"/>
<path d="M217.8,462.5H219.9V460.4H222.1V462.5H224.2V464.7H222.1V466.8H219.9V464.7H217.8Z" fill="#ffffff"/>
<path d="M227.8,457.3H229.9V455.2H232.1V457.3H234.2V459.5H232.1V461.6H229.9V459.5H227.8Z" fill="#ffffff"/>
<path d="M231.8,456.9H233.9V454.8H236.1V456.9H238.2V459.1H236.1V461.2H233.9V459.1H231.8Z" fill="#ffffff"/>
<path d="M228.8,459.9H230.9V457.8H233.1V459.9H235.2V462.1H233.1V464.2H230.9V462.1H228.8Z" fill="#ffffff"/>
<path d="M232.8,462.5H234.9V460.4H237.1V462.5H239.2V464.7H237.1V466.8H234.9V464.7H232.8Z" fill="#ffffff"/>
<path d="M237.8,462.5H239.9V460.4H242.1V462.5H244.2V464.7H242.1V466.8H239.9V464.7H237.8Z" fill="#ffffff"/>
<path d="M240.4,464.5H242.5V462.4H244.7V464.5H246.8V466.7H244.7V468.8H242.5V466.7H240.4Z" fill="#ffffff"/>
<path d="M235.8,469.9H237.9V467.8H240.1V469.9H242.2V472.1H240.1V474.2H237.9V472.1H235.8Z" fill="#ffffff"/>
<path d="M247.8,459.5H249.9V457.4H252.1V459.5H254.2V461.7H252.1V463.8H249.9V461.7H247.8Z" fill="#ffffff"/>
<path d="M257.8,451.9H259.9V449.8H262.1V451.9H264.2V454.1H262.1V456.2H259.9V454.1H257.8Z" fill="#ffffff"/>
<path d="M261.8,451.9H263.9V449.8H266.1V451.9H268.2V454.1H266.1V456.2H263.9V454.1H261.8Z" fill="#ffffff"/>
<path d="M269.8,457.3H271.9V455.2H274.1V457.3H276.2V459.5H274.1V461.6H271.9V459.5H269.8Z" fill="#ffffff"/>
<path d="M285.4,454.9H287.5V452.8H289.7V454.9H291.8V457.1H289.7V459.2H287.5V457.1H285.4Z" fill="#ffffff"/>
<path d="M290.4,462.5H292.5V460.4H294.7V462.5H296.8V464.7H294.7V466.8H292.5V464.7H290.4Z" fill="#ffffff"/>
<path d="M476.3,338.4H478.4V336.3H480.6V338.4H482.7V340.6H480.6V342.7H478.4V340.6H476.3Z" fill="#ffffff"/>
<path d="M478.3,340.9H480.4V338.8H482.6V340.9H484.7V343.1H482.6V345.2H480.4V343.1H478.3Z" fill="#ffffff"/>
<path d="M476.3,345.9H478.4V343.8H480.6V345.9H482.7V348.1H480.6V350.2H478.4V348.1H476.3Z" fill="#ffffff"/>
<path d="M474.8,348.9H476.9V346.8H479.1V348.9H481.2V351.1H479.1V353.2H476.9V351.1H474.8Z" fill="#ffffff"/>
<path d="M488.3,332.9H490.4V330.8H492.6V332.9H494.7V335.1H492.6V337.2H490.4V335.1H488.3Z" fill="#ffffff"/>
<path d="M489.8,337.4H491.9V335.3H494.1V337.4H496.2V339.6H494.1V341.7H491.9V339.6H489.8Z" fill="#ffffff"/>
<path d="M494.8,329.9H496.9V327.8H499.1V329.9H501.2V332.1H499.1V334.2H496.9V332.1H494.8Z" fill="#ffffff"/>
<path d="M500.8,327.4H502.9V325.3H505.1V327.4H507.2V329.6H505.1V331.7H502.9V329.6H500.8Z" fill="#ffffff"/>
<path d="M503.8,318.4H505.9V316.3H508.1V318.4H510.2V320.6H508.1V322.7H505.9V320.6H503.8Z" fill="#ffffff"/>
<path d="M501.3,311.9H503.4V309.8H505.6V311.9H507.7V314.1H505.6V316.2H503.4V314.1H501.3Z" fill="#ffffff"/>
<path d="M507.8,309.4H509.9V307.3H512.1V309.4H514.2V311.6H512.1V313.7H509.9V311.6H507.8Z" fill="#ffffff"/>
<path d="M513.3,307.4H515.4V305.3H517.6V307.4H519.7V309.6H517.6V311.7H515.4V309.6H513.3Z" fill="#ffffff"/>
<path d="M509.3,317.9H511.4V315.8H513.6V317.9H515.7V320.1H513.6V322.2H511.4V320.1H509.3Z" fill="#ffffff"/>
<path d="M525.8,303.9H527.9V301.8H530.1V303.9H532.2V306.1H530.1V308.2H527.9V306.1H525.8Z" fill="#ffffff"/>
<path d="M527.8,304.9H529.9V302.8H532.1V304.9H534.2V307.1H532.1V309.2H529.9V307.1H527.8Z" fill="#ffffff"/>
<path d="M526.8,309.9H528.9V307.8H531.1V309.9H533.2V312.1H531.1V314.2H528.9V312.1H526.8Z" fill="#ffffff"/>
<path d="M530.8,301.9H532.9V299.8H535.1V301.9H537.2V304.1H535.1V306.2H532.9V304.1H530.8Z" fill="#ffffff"/>
<path d="M532.8,294.9H534.9V292.8H537.1V294.9H539.2V297.1H537.1V299.2H534.9V297.1H532.8Z" fill="#ffffff"/>
<path d="M536.8,293.9H538.9V291.8H541.1V293.9H543.2V296.1H541.1V298.2H538.9V296.1H536.8Z" fill="#ffffff"/>
<path d="M539.8,290.9H541.9V288.8H544.1V290.9H546.2V293.1H544.1V295.2H541.9V293.1H539.8Z" fill="#ffffff"/>
<path d="M541.8,296.4H543.9V294.3H546.1V296.4H548.2V298.6H546.1V300.7H543.9V298.6H541.8Z" fill="#ffffff"/>
<path d="M542.8,292.4H544.9V290.3H547.1V292.4H549.2V294.6H547.1V296.7H544.9V294.6H542.8Z" fill="#ffffff"/>
<path d="M506.8,345.9H508.9V343.8H511.1V345.9H513.2V348.1H511.1V350.2H508.9V348.1H506.8Z" fill="#ffffff"/>
<path d="M511.8,343.4H513.9V341.3H516.1V343.4H518.2V345.6H516.1V347.7H513.9V345.6H511.8Z" fill="#ffffff"/>
<path d="M517.3,338.4H519.4V336.3H521.6V338.4H523.7V340.6H521.6V342.7H519.4V340.6H517.3Z" fill="#ffffff"/>
<path d="M528.8,294.9H530.9V292.8H533.1V294.9H535.2V297.1H533.1V299.2H530.9V297.1H528.8Z" fill="#ffffff"/>
<path d="M537.8,297.4H539.9V295.3H542.1V297.4H544.2V299.6H542.1V301.7H539.9V299.6H537.8Z" fill="#ffffff"/>
<path d="M562.8,242.7H564.9V240.6H567.1V242.7H569.2V244.9H567.1V247.0H564.9V244.9H562.8Z" fill="#ffffff"/>
<path d="M557.8,250.7H559.9V248.6H562.1V250.7H564.2V252.9H562.1V255.0H559.9V252.9H557.8Z" fill="#ffffff"/>
<path d="M566.5,260.9H568.6V258.8H570.8V260.9H572.9V263.1H570.8V265.2H568.6V263.1H566.5Z" fill="#ffffff"/>
<path d="M561.6,264.9H563.7V262.8H565.9V264.9H568.0V267.1H565.9V269.2H563.7V267.1H561.6Z" fill="#ffffff"/>
<path d="M562.0,269.4H564.1V267.3H566.3V269.4H568.4V271.6H566.3V273.7H564.1V271.6H562.0Z" fill="#ffffff"/>
<path d="M555.8,258.9H557.9V256.8H560.1V258.9H562.2V261.1H560.1V263.2H557.9V261.1H555.8Z" fill="#ffffff"/>
<path d="M547.8,276.4H549.9V274.3H552.1V276.4H554.2V278.6H552.1V280.7H549.9V278.6H547.8Z" fill="#ffffff"/>
<path d="M549.3,278.9H551.4V276.8H553.6V278.9H555.7V281.1H553.6V283.2H551.4V281.1H549.3Z" fill="#ffffff"/>
<path d="M545.3,279.9H547.4V277.8H549.6V279.9H551.7V282.1H549.6V284.2H547.4V282.1H545.3Z" fill="#ffffff"/>
<path d="M524.8,284.4H526.9V282.3H529.1V284.4H531.2V286.6H529.1V288.7H526.9V286.6H524.8Z" fill="#ffffff"/>
<path d="M538.8,279.9H540.9V277.8H543.1V279.9H545.2V282.1H543.1V284.2H540.9V282.1H538.8Z" fill="#ffffff"/>
<path d="M535.3,286.4H537.4V284.3H539.6V286.4H541.7V288.6H539.6V290.7H537.4V288.6H535.3Z" fill="#ffffff"/>
<path d="M546.8,283.9H548.9V281.8H551.1V283.9H553.2V286.1H551.1V288.2H548.9V286.1H546.8Z" fill="#ffffff"/>
<path d="M542.8,287.9H544.9V285.8H547.1V287.9H549.2V290.1H547.1V292.2H544.9V290.1H542.8Z" fill="#ffffff"/>
<path d="M556.8,264.9H558.9V262.8H561.1V264.9H563.2V267.1H561.1V269.2H558.9V267.1H556.8Z" fill="#ffffff"/>
<path d="M586.8,167.9H588.9V165.8H591.1V167.9H593.2V170.1H591.1V172.2H588.9V170.1H586.8Z" fill="#ffffff"/>
<path d="M593.8,180.7H595.9V178.6H598.1V180.7H600.2V182.9H598.1V185.0H595.9V182.9H593.8Z" fill="#ffffff"/>
<path d="M594.0,193.6H596.1V191.5H598.3V193.6H600.4V195.8H598.3V197.9H596.1V195.8H594.0Z" fill="#ffffff"/>
<path d="M604.0,214.4H606.1V212.3H608.3V214.4H610.4V216.6H608.3V218.7H606.1V216.6H604.0Z" fill="#ffffff"/>
<path d="M603.8,232.1H605.9V230.0H608.1V232.1H610.2V234.3H608.1V236.4H605.9V234.3H603.8Z" fill="#ffffff"/>
<path d="M599.8,232.1H601.9V230.0H604.1V232.1H606.2V234.3H604.1V236.4H601.9V234.3H599.8Z" fill="#ffffff"/>
<path d="M601.8,241.4H603.9V239.3H606.1V241.4H608.2V243.6H606.1V245.7H603.9V243.6H601.8Z" fill="#ffffff"/>
<path d="M596.3,247.9H598.4V245.8H600.6V247.9H602.7V250.1H600.6V252.2H598.4V250.1H596.3Z" fill="#ffffff"/>
<path d="M607.8,263.4H609.9V261.3H612.1V263.4H614.2V265.6H612.1V267.7H609.9V265.6H607.8Z" fill="#ffffff"/>
<path d="M613.8,263.4H615.9V261.3H618.1V263.4H620.2V265.6H618.1V267.7H615.9V265.6H613.8Z" fill="#ffffff"/>
<path d="M596.8,264.9H598.9V262.8H601.1V264.9H603.2V267.1H601.1V269.2H598.9V267.1H596.8Z" fill="#ffffff"/>
<path d="M598.3,267.9H600.4V265.8H602.6V267.9H604.7V270.1H602.6V272.2H600.4V270.1H598.3Z" fill="#ffffff"/>
<path d="M593.8,270.9H595.9V268.8H598.1V270.9H600.2V273.1H598.1V275.2H595.9V273.1H593.8Z" fill="#ffffff"/>
<path d="M602.8,266.9H604.9V264.8H607.1V266.9H609.2V269.1H607.1V271.2H604.9V269.1H602.8Z" fill="#ffffff"/>
<path d="M619.3,276.1H621.4V274.0H623.6V276.1H625.7V278.3H623.6V280.4H621.4V278.3H619.3Z" fill="#ffffff"/>
<path d="M604.8,282.4H606.9V280.3H609.1V282.4H611.2V284.6H609.1V286.7H606.9V284.6H604.8Z" fill="#ffffff"/>
<path d="M613.8,287.9H615.9V285.8H618.1V287.9H620.2V290.1H618.1V292.2H615.9V290.1H613.8Z" fill="#ffffff"/>
<path d="M603.8,286.4H605.9V284.3H608.1V286.4H610.2V288.6H608.1V290.7H605.9V288.6H603.8Z" fill="#ffffff"/>
<path d="M605.3,296.9H607.4V294.8H609.6V296.9H611.7V299.1H609.6V301.2H607.4V299.1H605.3Z" fill="#ffffff"/>
<path d="M610.3,301.4H612.4V299.3H614.6V301.4H616.7V303.6H614.6V305.7H612.4V303.6H610.3Z" fill="#ffffff"/>
<path d="M613.3,302.9H615.4V300.8H617.6V302.9H619.7V305.1H617.6V307.2H615.4V305.1H613.3Z" fill="#ffffff"/>
<path d="M623.8,299.9H625.9V297.8H628.1V299.9H630.2V302.1H628.1V304.2H625.9V302.1H623.8Z" fill="#ffffff"/>
<path d="M609.8,308.9H611.9V306.8H614.1V308.9H616.2V311.1H614.1V313.2H611.9V311.1H609.8Z" fill="#ffffff"/>
<path d="M612.8,310.4H614.9V308.3H617.1V310.4H619.2V312.6H617.1V314.7H614.9V312.6H612.8Z" fill="#ffffff"/>
<path d="M616.8,314.9H618.9V312.8H621.1V314.9H623.2V317.1H621.1V319.2H618.9V317.1H616.8Z" fill="#ffffff"/>
<path d="M618.8,318.9H620.9V316.8H623.1V318.9H625.2V321.1H623.1V323.2H620.9V321.1H618.8Z" fill="#ffffff"/>
<path d="M617.8,322.9H619.9V320.8H622.1V322.9H624.2V325.1H622.1V327.2H619.9V325.1H617.8Z" fill="#ffffff"/>
<path d="M634.8,324.9H636.9V322.8H639.1V324.9H641.2V327.1H639.1V329.2H636.9V327.1H634.8Z" fill="#ffffff"/>
<path d="M636.8,326.4H638.9V324.3H641.1V326.4H643.2V328.6H641.1V330.7H638.9V328.6H636.8Z" fill="#ffffff"/>
<path d="M628.8,328.9H630.9V326.8H633.1V328.9H635.2V331.1H633.1V333.2H630.9V331.1H628.8Z" fill="#ffffff"/>
<path d="M638.8,329.9H640.9V327.8H643.1V329.9H645.2V332.1H643.1V334.2H640.9V332.1H638.8Z" fill="#ffffff"/>
<path d="M646.8,335.9H648.9V333.8H651.1V335.9H653.2V338.1H651.1V340.2H648.9V338.1H646.8Z" fill="#ffffff"/>
<path d="M651.8,335.9H653.9V333.8H656.1V335.9H658.2V338.1H656.1V340.2H653.9V338.1H651.8Z" fill="#ffffff"/>
<path d="M654.8,340.9H656.9V338.8H659.1V340.9H661.2V343.1H659.1V345.2H656.9V343.1H654.8Z" fill="#ffffff"/>
<path d="M628.8,344.9H630.9V342.8H633.1V344.9H635.2V347.1H633.1V349.2H630.9V347.1H628.8Z" fill="#ffffff"/>
<path d="M632.8,346.9H634.9V344.8H637.1V346.9H639.2V349.1H637.1V351.2H634.9V349.1H632.8Z" fill="#ffffff"/>
<path d="M656.8,345.9H658.9V343.8H661.1V345.9H663.2V348.1H661.1V350.2H658.9V348.1H656.8Z" fill="#ffffff"/>
<path d="M638.8,312.4H640.9V310.3H643.1V312.4H645.2V314.6H643.1V316.7H640.9V314.6H638.8Z" fill="#ffffff"/>
<path d="M630.8,323.9H632.9V321.8H635.1V323.9H637.2V326.1H635.1V328.2H632.9V326.1H630.8Z" fill="#ffffff"/>
<path d="M626.3,302.9H628.4V300.8H630.6V302.9H632.7V305.1H630.6V307.2H628.4V305.1H626.3Z" fill="#ffffff"/>
<path d="M611.8,305.9H613.9V303.8H616.1V305.9H618.2V308.1H616.1V310.2H613.9V308.1H611.8Z" fill="#ffffff"/>
<path d="M615.3,312.4H617.4V310.3H619.6V312.4H621.7V314.6H619.6V316.7H617.4V314.6H615.3Z" fill="#ffffff"/>
<path d="M621.3,318.9H623.4V316.8H625.6V318.9H627.7V321.1H625.6V323.2H623.4V321.1H621.3Z" fill="#ffffff"/>
<path d="M623.8,328.9H625.9V326.8H628.1V328.9H630.2V331.1H628.1V333.2H625.9V331.1H623.8Z" fill="#ffffff"/>
<path d="M626.8,335.9H628.9V333.8H631.1V335.9H633.2V338.1H631.1V340.2H628.9V338.1H626.8Z" fill="#ffffff"/>
<path d="M640.8,333.9H642.9V331.8H645.1V333.9H647.2V336.1H645.1V338.2H642.9V336.1H640.8Z" fill="#ffffff"/>
<path d="M642.8,336.9H644.9V334.8H647.1V336.9H649.2V339.1H647.1V341.2H644.9V339.1H642.8Z" fill="#ffffff"/>
<path d="M650.8,342.9H652.9V340.8H655.1V342.9H657.2V345.1H655.1V347.2H652.9V345.1H650.8Z" fill="#ffffff"/>
<path d="M652.8,346.9H654.9V344.8H657.1V346.9H659.2V349.1H657.1V351.2H654.9V349.1H652.8Z" fill="#ffffff"/>
<path d="M636.8,344.9H638.9V342.8H641.1V344.9H643.2V347.1H641.1V349.2H638.9V347.1H636.8Z" fill="#ffffff"/>
<path d="M631.8,338.9H633.9V336.8H636.1V338.9H638.2V341.1H636.1V343.2H633.9V341.1H631.8Z" fill="#ffffff"/>
<path d="M619.8,325.9H621.9V323.8H624.1V325.9H626.2V328.1H624.1V330.2H621.9V328.1H619.8Z" fill="#ffffff"/>
<path d="M631.8,349.9H633.9V347.8H636.1V349.9H638.2V352.1H636.1V354.2H633.9V352.1H631.8Z" fill="#ffffff"/>
<path d="M634.8,353.9H636.9V351.8H639.1V353.9H641.2V356.1H639.1V358.2H636.9V356.1H634.8Z" fill="#ffffff"/>
<path d="M636.8,356.4H638.9V354.3H641.1V356.4H643.2V358.6H641.1V360.7H638.9V358.6H636.8Z" fill="#ffffff"/>
<path d="M648.8,359.9H650.9V357.8H653.1V359.9H655.2V362.1H653.1V364.2H650.9V362.1H648.8Z" fill="#ffffff"/>
<path d="M651.8,356.4H653.9V354.3H656.1V356.4H658.2V358.6H656.1V360.7H653.9V358.6H651.8Z" fill="#ffffff"/>
<path d="M661.8,351.9H663.9V349.8H666.1V351.9H668.2V354.1H666.1V356.2H663.9V354.1H661.8Z" fill="#ffffff"/>
<path d="M668.8,354.9H670.9V352.8H673.1V354.9H675.2V357.1H673.1V359.2H670.9V357.1H668.8Z" fill="#ffffff"/>
<path d="M669.8,359.9H671.9V357.8H674.1V359.9H676.2V362.1H674.1V364.2H671.9V362.1H669.8Z" fill="#ffffff"/>
<path d="M673.8,361.4H675.9V359.3H678.1V361.4H680.2V363.6H678.1V365.7H675.9V363.6H673.8Z" fill="#ffffff"/>
<path d="M678.8,362.4H680.9V360.3H683.1V362.4H685.2V364.6H683.1V366.7H680.9V364.6H678.8Z" fill="#ffffff"/>
<path d="M673.8,369.9H675.9V367.8H678.1V369.9H680.2V372.1H678.1V374.2H675.9V372.1H673.8Z" fill="#ffffff"/>
<path d="M677.8,372.9H679.9V370.8H682.1V372.9H684.2V375.1H682.1V377.2H679.9V375.1H677.8Z" fill="#ffffff"/>
<path d="M668.8,373.9H670.9V371.8H673.1V373.9H675.2V376.1H673.1V378.2H670.9V376.1H668.8Z" fill="#ffffff"/>
<path d="M686.8,374.4H688.9V372.3H691.1V374.4H693.2V376.6H691.1V378.7H688.9V376.6H686.8Z" fill="#ffffff"/>
<path d="M680.8,378.9H682.9V376.8H685.1V378.9H687.2V381.1H685.1V383.2H682.9V381.1H680.8Z" fill="#ffffff"/>
<path d="M685.8,382.9H687.9V380.8H690.1V382.9H692.2V385.1H690.1V387.2H687.9V385.1H685.8Z" fill="#ffffff"/>
<path d="M685.8,388.9H687.9V386.8H690.1V388.9H692.2V391.1H690.1V393.2H687.9V391.1H685.8Z" fill="#ffffff"/>
<path d="M645.3,373.9H647.4V371.8H649.6V373.9H651.7V376.1H649.6V378.2H647.4V376.1H645.3Z" fill="#ffffff"/>
<path d="M643.3,377.4H645.4V375.3H647.6V377.4H649.7V379.6H647.6V381.7H645.4V379.6H643.3Z" fill="#ffffff"/>
<path d="M639.8,381.9H641.9V379.8H644.1V381.9H646.2V384.1H644.1V386.2H641.9V384.1H639.8Z" fill="#ffffff"/>
<path d="M660.3,382.9H662.4V380.8H664.6V382.9H666.7V385.1H664.6V387.2H662.4V385.1H660.3Z" fill="#ffffff"/>
<path d="M669.8,392.4H671.9V390.3H674.1V392.4H676.2V394.6H674.1V396.7H671.9V394.6H669.8Z" fill="#ffffff"/>
<path d="M659.3,397.9H661.4V395.8H663.6V397.9H665.7V400.1H663.6V402.2H661.4V400.1H659.3Z" fill="#ffffff"/>
<path d="M680.8,397.9H682.9V395.8H685.1V397.9H687.2V400.1H685.1V402.2H682.9V400.1H680.8Z" fill="#ffffff"/>
<path d="M708.8,374.4H710.9V372.3H713.1V374.4H715.2V376.6H713.1V378.7H710.9V376.6H708.8Z" fill="#ffffff"/>
<path d="M708.8,379.4H710.9V377.3H713.1V379.4H715.2V381.6H713.1V383.7H710.9V381.6H708.8Z" fill="#ffffff"/>
<path d="M703.8,382.9H705.9V380.8H708.1V382.9H710.2V385.1H708.1V387.2H705.9V385.1H703.8Z" fill="#ffffff"/>
<path d="M676.8,366.9H678.9V364.8H681.1V366.9H683.2V369.1H681.1V371.2H678.9V369.1H676.8Z" fill="#ffffff"/>
<path d="M681.8,375.9H683.9V373.8H686.1V375.9H688.2V378.1H686.1V380.2H683.9V378.1H681.8Z" fill="#ffffff"/>
<path d="M683.8,385.9H685.9V383.8H688.1V385.9H690.2V388.1H688.1V390.2H685.9V388.1H683.8Z" fill="#ffffff"/>
<path d="M655.8,354.9H657.9V352.8H660.1V354.9H662.2V357.1H660.1V359.2H657.9V357.1H655.8Z" fill="#ffffff"/>
<path d="M646.8,359.9H648.9V357.8H651.1V359.9H653.2V362.1H651.1V364.2H648.9V362.1H646.8Z" fill="#ffffff"/>
<path d="M681.8,381.9H683.9V379.8H686.1V381.9H688.2V384.1H686.1V386.2H683.9V384.1H681.8Z" fill="#ffffff"/>
<path d="M688.8,387.9H690.9V385.8H693.1V387.9H695.2V390.1H693.1V392.2H690.9V390.1H688.8Z" fill="#ffffff"/>
<path d="M688.8,392.9H690.9V390.8H693.1V392.9H695.2V395.1H693.1V397.2H690.9V395.1H688.8Z" fill="#ffffff"/>
<path d="M698.8,386.9H700.9V384.8H703.1V386.9H705.2V389.1H703.1V391.2H700.9V389.1H698.8Z" fill="#ffffff"/>
<path d="M688.8,399.9H690.9V397.8H693.1V399.9H695.2V402.1H693.1V404.2H690.9V402.1H688.8Z" fill="#ffffff"/>
<path d="M693.8,400.9H695.9V398.8H698.1V400.9H700.2V403.1H698.1V405.2H695.9V403.1H693.8Z" fill="#ffffff"/>
<path d="M688.8,405.4H690.9V403.3H693.1V405.4H695.2V407.6H693.1V409.7H690.9V407.6H688.8Z" fill="#ffffff"/>
<path d="M693.8,408.4H695.9V406.3H698.1V408.4H700.2V410.6H698.1V412.7H695.9V410.6H693.8Z" fill="#ffffff"/>
<path d="M698.8,405.4H700.9V403.3H703.1V405.4H705.2V407.6H703.1V409.7H700.9V407.6H698.8Z" fill="#ffffff"/>
<path d="M718.8,406.9H720.9V404.8H723.1V406.9H725.2V409.1H723.1V411.2H720.9V409.1H718.8Z" fill="#ffffff"/>
<path d="M717.8,411.9H719.9V409.8H722.1V411.9H724.2V414.1H722.1V416.2H719.9V414.1H717.8Z" fill="#ffffff"/>
<path d="M723.8,412.9H725.9V410.8H728.1V412.9H730.2V415.1H728.1V417.2H725.9V415.1H723.8Z" fill="#ffffff"/>
<path d="M726.3,397.4H728.4V395.3H730.6V397.4H732.7V399.6H730.6V401.7H728.4V399.6H726.3Z" fill="#ffffff"/>
<path d="M708.8,420.9H710.9V418.8H713.1V420.9H715.2V423.1H713.1V425.2H710.9V423.1H708.8Z" fill="#ffffff"/>
<path d="M713.8,417.9H715.9V415.8H718.1V417.9H720.2V420.1H718.1V422.2H715.9V420.1H713.8Z" fill="#ffffff"/>
<path d="M713.8,422.4H715.9V420.3H718.1V422.4H720.2V424.6H718.1V426.7H715.9V424.6H713.8Z" fill="#ffffff"/>
<path d="M717.8,417.9H719.9V415.8H722.1V417.9H724.2V420.1H722.1V422.2H719.9V420.1H717.8Z" fill="#ffffff"/>
<path d="M719.8,425.9H721.9V423.8H724.1V425.9H726.2V428.1H724.1V430.2H721.9V428.1H719.8Z" fill="#ffffff"/>
<path d="M728.8,418.9H730.9V416.8H733.1V418.9H735.2V421.1H733.1V423.2H730.9V421.1H728.8Z" fill="#ffffff"/>
<path d="M733.8,418.4H735.9V416.3H738.1V418.4H740.2V420.6H738.1V422.7H735.9V420.6H733.8Z" fill="#ffffff"/>
<path d="M731.3,425.9H733.4V423.8H735.6V425.9H737.7V428.1H735.6V430.2H733.4V428.1H731.3Z" fill="#ffffff"/>
<path d="M733.8,429.4H735.9V427.3H738.1V429.4H740.2V431.6H738.1V433.7H735.9V431.6H733.8Z" fill="#ffffff"/>
<path d="M738.8,430.9H740.9V428.8H743.1V430.9H745.2V433.1H743.1V435.2H740.9V433.1H738.8Z" fill="#ffffff"/>
<path d="M736.8,434.4H738.9V432.3H741.1V434.4H743.2V436.6H741.1V438.7H738.9V436.6H736.8Z" fill="#ffffff"/>
<path d="M736.3,437.4H738.4V435.3H740.6V437.4H742.7V439.6H740.6V441.7H738.4V439.6H736.3Z" fill="#ffffff"/>
<path d="M728.8,433.9H730.9V431.8H733.1V433.9H735.2V436.1H733.1V438.2H730.9V436.1H728.8Z" fill="#ffffff"/>
<path d="M743.8,438.4H745.9V436.3H748.1V438.4H750.2V440.6H748.1V442.7H745.9V440.6H743.8Z" fill="#ffffff"/>
<path d="M748.8,441.4H750.9V439.3H753.1V441.4H755.2V443.6H753.1V445.7H750.9V443.6H748.8Z" fill="#ffffff"/>
<path d="M755.8,441.4H757.9V439.3H760.1V441.4H762.2V443.6H760.1V445.7H757.9V443.6H755.8Z" fill="#ffffff"/>
<path d="M743.3,447.4H745.4V445.3H747.6V447.4H749.7V449.6H747.6V451.7H745.4V449.6H743.3Z" fill="#ffffff"/>
<path d="M744.8,430.4H746.9V428.3H749.1V430.4H751.2V432.6H749.1V434.7H746.9V432.6H744.8Z" fill="#ffffff"/>
<path d="M750.8,430.9H752.9V428.8H755.1V430.9H757.2V433.1H755.1V435.2H752.9V433.1H750.8Z" fill="#ffffff"/>
<path d="M773.3,428.9H775.4V426.8H777.6V428.9H779.7V431.1H777.6V433.2H775.4V431.1H773.3Z" fill="#ffffff"/>
<path d="M781.8,438.9H783.9V436.8H786.1V438.9H788.2V441.1H786.1V443.2H783.9V441.1H781.8Z" fill="#ffffff"/>
<path d="M781.8,442.9H783.9V440.8H786.1V442.9H788.2V445.1H786.1V447.2H783.9V445.1H781.8Z" fill="#ffffff"/>
<path d="M778.8,447.9H780.9V445.8H783.1V447.9H785.2V450.1H783.1V452.2H780.9V450.1H778.8Z" fill="#ffffff"/>
<path d="M773.8,452.9H775.9V450.8H778.1V452.9H780.2V455.1H778.1V457.2H775.9V455.1H773.8Z" fill="#ffffff"/>
<path d="M791.8,444.9H793.9V442.8H796.1V444.9H798.2V447.1H796.1V449.2H793.9V447.1H791.8Z" fill="#ffffff"/>
<path d="M795.8,445.9H797.9V443.8H800.1V445.9H802.2V448.1H800.1V450.2H797.9V448.1H795.8Z" fill="#ffffff"/>
<path d="M796.3,438.9H798.4V436.8H800.6V438.9H802.7V441.1H800.6V443.2H798.4V441.1H796.3Z" fill="#ffffff"/>
<path d="M703.8,417.9H705.9V415.8H708.1V417.9H710.2V420.1H708.1V422.2H705.9V420.1H703.8Z" fill="#ffffff"/>
<path d="M777.8,452.9H779.9V450.8H782.1V452.9H784.2V455.1H782.1V457.2H779.9V455.1H777.8Z" fill="#ffffff"/>
<path d="M748.8,465.1H750.9V463.0H753.1V465.1H755.2V467.3H753.1V469.4H750.9V467.3H748.8Z" fill="#ffffff"/>
<path d="M753.8,465.1H755.9V463.0H758.1V465.1H760.2V467.3H758.1V469.4H755.9V467.3H753.8Z" fill="#ffffff"/>
<path d="M778.8,459.9H780.9V457.8H783.1V459.9H785.2V462.1H783.1V464.2H780.9V462.1H778.8Z" fill="#ffffff"/>
<path d="M783.3,462.4H785.4V460.3H787.6V462.4H789.7V464.6H787.6V466.7H785.4V464.6H783.3Z" fill="#ffffff"/>
<path d="M788.3,459.9H790.4V457.8H792.6V459.9H794.7V462.1H792.6V464.2H790.4V462.1H788.3Z" fill="#ffffff"/>
<path d="M793.8,458.9H795.9V456.8H798.1V458.9H800.2V461.1H798.1V463.2H795.9V461.1H793.8Z" fill="#ffffff"/>
<path d="M803.8,433.9H805.9V431.8H808.1V433.9H810.2V436.1H808.1V438.2H805.9V436.1H803.8Z" fill="#ffffff"/>
<path d="M808.3,433.9H810.4V431.8H812.6V433.9H814.7V436.1H812.6V438.2H810.4V436.1H808.3Z" fill="#ffffff"/>
<path d="M798.8,438.9H800.9V436.8H803.1V438.9H805.2V441.1H803.1V443.2H800.9V441.1H798.8Z" fill="#ffffff"/>
<path d="M818.8,441.4H820.9V439.3H823.1V441.4H825.2V443.6H823.1V445.7H820.9V443.6H818.8Z" fill="#ffffff"/>
<path d="M813.8,443.4H815.9V441.3H818.1V443.4H820.2V445.6H818.1V447.7H815.9V445.6H813.8Z" fill="#ffffff"/>
<path d="M799.8,446.4H801.9V444.3H804.1V446.4H806.2V448.6H804.1V450.7H801.9V448.6H799.8Z" fill="#ffffff"/>
<path d="M811.8,447.4H813.9V445.3H816.1V447.4H818.2V449.6H816.1V451.7H813.9V449.6H811.8Z" fill="#ffffff"/>
<path d="M815.8,449.9H817.9V447.8H820.1V449.9H822.2V452.1H820.1V454.2H817.9V452.1H815.8Z" fill="#ffffff"/>
<path d="M823.8,446.4H825.9V444.3H828.1V446.4H830.2V448.6H828.1V450.7H825.9V448.6H823.8Z" fill="#ffffff"/>
<path d="M833.3,446.9H835.4V444.8H837.6V446.9H839.7V449.1H837.6V451.2H835.4V449.1H833.3Z" fill="#ffffff"/>
<path d="M821.8,452.4H823.9V450.3H826.1V452.4H828.2V454.6H826.1V456.7H823.9V454.6H821.8Z" fill="#ffffff"/>
<path d="M803.8,454.4H805.9V452.3H808.1V454.4H810.2V456.6H808.1V458.7H805.9V456.6H803.8Z" fill="#ffffff"/>
<path d="M813.8,456.9H815.9V454.8H818.1V456.9H820.2V459.1H818.1V461.2H815.9V459.1H813.8Z" fill="#ffffff"/>
<path d="M813.8,461.9H815.9V459.8H818.1V461.9H820.2V464.1H818.1V466.2H815.9V464.1H813.8Z" fill="#ffffff"/>
<path d="M808.8,464.9H810.9V462.8H813.1V464.9H815.2V467.1H813.1V469.2H810.9V467.1H808.8Z" fill="#ffffff"/>
<path d="M818.8,463.9H820.9V461.8H823.1V463.9H825.2V466.1H823.1V468.2H820.9V466.1H818.8Z" fill="#ffffff"/>
<path d="M821.8,467.4H823.9V465.3H826.1V467.4H828.2V469.6H826.1V471.7H823.9V469.6H821.8Z" fill="#ffffff"/>
<path d="M829.8,464.9H831.9V462.8H834.1V464.9H836.2V467.1H834.1V469.2H831.9V467.1H829.8Z" fill="#ffffff"/>
<path d="M842.8,462.9H844.9V460.8H847.1V462.9H849.2V465.1H847.1V467.2H844.9V465.1H842.8Z" fill="#ffffff"/>
<path d="M852.3,459.4H854.4V457.3H856.6V459.4H858.7V461.6H856.6V463.7H854.4V461.6H852.3Z" fill="#ffffff"/>
<path d="M853.8,443.9H855.9V441.8H858.1V443.9H860.2V446.1H858.1V448.2H855.9V446.1H853.8Z" fill="#ffffff"/>
<path d="M863.3,459.4H865.4V457.3H867.6V459.4H869.7V461.6H867.6V463.7H865.4V461.6H863.3Z" fill="#ffffff"/>
<path d="M873.8,456.9H875.9V454.8H878.1V456.9H880.2V459.1H878.1V461.2H875.9V459.1H873.8Z" fill="#ffffff"/>
<path d="M868.3,462.4H870.4V460.3H872.6V462.4H874.7V464.6H872.6V466.7H870.4V464.6H868.3Z" fill="#ffffff"/>
<path d="M873.8,464.4H875.9V462.3H878.1V464.4H880.2V466.6H878.1V468.7H875.9V466.6H873.8Z" fill="#ffffff"/>
<path d="M868.8,464.9H870.9V462.8H873.1V464.9H875.2V467.1H873.1V469.2H870.9V467.1H868.8Z" fill="#ffffff"/>
<path d="M852.8,464.9H854.9V462.8H857.1V464.9H859.2V467.1H857.1V469.2H854.9V467.1H852.8Z" fill="#ffffff"/>
<path d="M861.8,464.9H863.9V462.8H866.1V464.9H868.2V467.1H866.1V469.2H863.9V467.1H861.8Z" fill="#ffffff"/>
<path d="M881.3,467.4H883.4V465.3H885.6V467.4H887.7V469.6H885.6V471.7H883.4V469.6H881.3Z" fill="#ffffff"/>
<path d="M886.3,469.9H888.4V467.8H890.6V469.9H892.7V472.1H890.6V474.2H888.4V472.1H886.3Z" fill="#ffffff"/>
<path d="M892.8,474.4H894.9V472.3H897.1V474.4H899.2V476.6H897.1V478.7H894.9V476.6H892.8Z" fill="#ffffff"/>
<path d="M883.3,474.4H885.4V472.3H887.6V474.4H889.7V476.6H887.6V478.7H885.4V476.6H883.3Z" fill="#ffffff"/>
<path d="M866.8,477.9H868.9V475.8H871.1V477.9H873.2V480.1H871.1V482.2H868.9V480.1H866.8Z" fill="#ffffff"/>
<path d="M873.3,477.9H875.4V475.8H877.6V477.9H879.7V480.1H877.6V482.2H875.4V480.1H873.3Z" fill="#ffffff"/>
<path d="M881.8,482.9H883.9V480.8H886.1V482.9H888.2V485.1H886.1V487.2H883.9V485.1H881.8Z" fill="#ffffff"/>
<path d="M847.8,472.4H849.9V470.3H852.1V472.4H854.2V474.6H852.1V476.7H849.9V474.6H847.8Z" fill="#ffffff"/>
<path d="M818.8,487.4H820.9V485.3H823.1V487.4H825.2V489.6H823.1V491.7H820.9V489.6H818.8Z" fill="#ffffff"/>
<path d="M840.8,453.9H842.9V451.8H845.1V453.9H847.2V456.1H845.1V458.2H842.9V456.1H840.8Z" fill="#ffffff"/>
<path d="M901.3,475.4H903.4V473.3H905.6V475.4H907.7V477.6H905.6V479.7H903.4V477.6H901.3Z" fill="#ffffff"/>
<path d="M907.8,498.7H909.9V496.6H912.1V498.7H914.2V500.9H912.1V503.0H909.9V500.9H907.8Z" fill="#ffffff"/>
<path d="M942.8,477.9H944.9V475.8H947.1V477.9H949.2V480.1H947.1V482.2H944.9V480.1H942.8Z" fill="#ffffff"/>
<path d="M948.8,477.9H950.9V475.8H953.1V477.9H955.2V480.1H953.1V482.2H950.9V480.1H948.8Z" fill="#ffffff"/>
<path d="M953.3,477.9H955.4V475.8H957.6V477.9H959.7V480.1H957.6V482.2H955.4V480.1H953.3Z" fill="#ffffff"/>
<path d="M958.3,474.9H960.4V472.8H962.6V474.9H964.7V477.1H962.6V479.2H960.4V477.1H958.3Z" fill="#ffffff"/>
<path d="M958.3,480.4H960.4V478.3H962.6V480.4H964.7V482.6H962.6V484.7H960.4V482.6H958.3Z" fill="#ffffff"/>
<path d="M936.3,485.4H938.4V483.3H940.6V485.4H942.7V487.6H940.6V489.7H938.4V487.6H936.3Z" fill="#ffffff"/>
<path d="M942.8,485.4H944.9V483.3H947.1V485.4H949.2V487.6H947.1V489.7H944.9V487.6H942.8Z" fill="#ffffff"/>
<path d="M952.8,485.4H954.9V483.3H957.1V485.4H959.2V487.6H957.1V489.7H954.9V487.6H952.8Z" fill="#ffffff"/>
<path d="M955.3,485.4H957.4V483.3H959.6V485.4H961.7V487.6H959.6V489.7H957.4V487.6H955.3Z" fill="#ffffff"/>
<path d="M937.8,493.4H939.9V491.3H942.1V493.4H944.2V495.6H942.1V497.7H939.9V495.6H937.8Z" fill="#ffffff"/>
<path d="M943.8,490.9H945.9V488.8H948.1V490.9H950.2V493.1H948.1V495.2H945.9V493.1H943.8Z" fill="#ffffff"/>
<path d="M947.8,495.9H949.9V493.8H952.1V495.9H954.2V498.1H952.1V500.2H949.9V498.1H947.8Z" fill="#ffffff"/>
<path d="M947.8,500.9H949.9V498.8H952.1V500.9H954.2V503.1H952.1V505.2H949.9V503.1H947.8Z" fill="#ffffff"/>
<path d="M956.3,500.9H958.4V498.8H960.6V500.9H962.7V503.1H960.6V505.2H958.4V503.1H956.3Z" fill="#ffffff"/>
<path d="M961.8,495.9H963.9V493.8H966.1V495.9H968.2V498.1H966.1V500.2H963.9V498.1H961.8Z" fill="#ffffff"/>
<path d="M971.8,493.4H973.9V491.3H976.1V493.4H978.2V495.6H976.1V497.7H973.9V495.6H971.8Z" fill="#ffffff"/>
<path d="M973.3,474.9H975.4V472.8H977.6V474.9H979.7V477.1H977.6V479.2H975.4V477.1H973.3Z" fill="#ffffff"/>
<path d="M978.3,477.4H980.4V475.3H982.6V477.4H984.7V479.6H982.6V481.7H980.4V479.6H978.3Z" fill="#ffffff"/>
<path d="M983.3,480.4H985.4V478.3H987.6V480.4H989.7V482.6H987.6V484.7H985.4V482.6H983.3Z" fill="#ffffff"/>
<path d="M991.3,493.4H993.4V491.3H995.6V493.4H997.7V495.6H995.6V497.7H993.4V495.6H991.3Z" fill="#ffffff"/>
<path d="M972.8,503.9H974.9V501.8H977.1V503.9H979.2V506.1H977.1V508.2H974.9V506.1H972.8Z" fill="#ffffff"/>
<path d="M973.8,510.9H975.9V508.8H978.1V510.9H980.2V513.1H978.1V515.2H975.9V513.1H973.8Z" fill="#ffffff"/>
<path d="M996.3,500.4H998.4V498.3H1000.6V500.4H1002.7V502.6H1000.6V504.7H998.4V502.6H996.3Z" fill="#ffffff"/>
<path d="M996.3,501.4H998.4V499.3H1000.6V501.4H1002.7V503.6H1000.6V505.7H998.4V503.6H996.3Z" fill="#ffffff"/>
<path d="M1008.3,493.4H1010.4V491.3H1012.6V493.4H1014.7V495.6H1012.6V497.7H1010.4V495.6H1008.3Z" fill="#ffffff"/>
<path d="M1016.8,510.9H1018.9V508.8H1021.1V510.9H1023.2V513.1H1021.1V515.2H1018.9V513.1H1016.8Z" fill="#ffffff"/>
<path d="M1017.8,514.4H1019.9V512.3H1022.1V514.4H1024.2V516.6H1022.1V518.7H1019.9V516.6H1017.8Z" fill="#ffffff"/>
<path d="M997.8,521.4H999.9V519.3H1002.1V521.4H1004.2V523.6H1002.1V525.7H999.9V523.6H997.8Z" fill="#ffffff"/>
<path d="M992.3,518.9H994.4V516.8H996.6V518.9H998.7V521.1H996.6V523.2H994.4V521.1H992.3Z" fill="#ffffff"/>
<path d="M692.1,393.8H694.3V391.7H696.5V393.8H698.6V396.0H696.5V398.2H694.3V396.0H692.1Z" fill="#00bc8c"/>
<path d="M700.2,391.2H702.3V389.1H704.5V391.2H706.6V393.4H704.5V395.6H702.3V393.4H700.2Z" fill="#00bc8c"/>
<path d="M703.6,394.4H705.7V392.3H707.9V394.4H710.0V396.6H707.9V398.8H705.7V396.6H703.6Z" fill="#00bc8c"/>
<path d="M705.7,393.4H707.8V391.3H710.0V393.4H712.2V395.6H710.0V397.8H707.8V395.6H705.7Z" fill="#00bc8c"/>
<path d="M711.4,399.6H713.5V397.5H715.7V399.6H717.9V401.8H715.7V403.9H713.5V401.8H711.4Z" fill="#00bc8c"/>
<path d="M715.9,398.2H718.1V396.1H720.3V398.2H722.4V400.4H720.3V402.6H718.1V400.4H715.9Z" fill="#00bc8c"/>
<path d="M716.0,407.6H718.1V405.5H720.3V407.6H722.4V409.8H720.3V412.0H718.1V409.8H716.0Z" fill="#00bc8c"/>
<path d="M719.5,406.8H721.6V404.6H723.8V406.8H725.9V409.0H723.8V411.1H721.6V409.0H719.5Z" fill="#00bc8c"/>
<path d="M89.8,482.9H91.9V480.8H94.1V482.9H96.2V485.1H94.1V487.2H91.9V485.1H89.8Z" fill="#00bc8c"/>
<path d="M85.8,506.3H87.9V504.2H90.1V506.3H92.2V508.5H90.1V510.6H87.9V508.5H85.8Z" fill="#00bc8c"/>
<path d="M90.8,506.3H92.9V504.2H95.1V506.3H97.2V508.5H95.1V510.6H92.9V508.5H90.8Z" fill="#00bc8c"/>
<path d="M95.8,503.3H97.9V501.2H100.1V503.3H102.2V505.5H100.1V507.6H97.9V505.5H95.8Z" fill="#00bc8c"/>
<path d="M100.8,507.9H102.9V505.8H105.1V507.9H107.2V510.1H105.1V512.2H102.9V510.1H100.8Z" fill="#00bc8c"/>
<path d="M105.8,501.3H107.9V499.2H110.1V501.3H112.2V503.5H110.1V505.6H107.9V503.5H105.8Z" fill="#00bc8c"/>
<path d="M80.4,513.9H82.5V511.8H84.7V513.9H86.8V516.1H84.7V518.2H82.5V516.1H80.4Z" fill="#00bc8c"/>
<path d="M88.8,513.9H90.9V511.8H93.1V513.9H95.2V516.1H93.1V518.2H90.9V516.1H88.8Z" fill="#00bc8c"/>
<path d="M93.8,516.9H95.9V514.8H98.1V516.9H100.2V519.1H98.1V521.2H95.9V519.1H93.8Z" fill="#00bc8c"/>
<path d="M98.8,513.9H100.9V511.8H103.1V513.9H105.2V516.1H103.1V518.2H100.9V516.1H98.8Z" fill="#00bc8c"/>
<path d="M100.4,519.3H102.5V517.2H104.7V519.3H106.8V521.5H104.7V523.6H102.5V521.5H100.4Z" fill="#00bc8c"/>
<path d="M79.2,519.9H81.3V517.8H83.5V519.9H85.6V522.1H83.5V524.2H81.3V522.1H79.2Z" fill="#00bc8c"/>
<path d="M97.8,524.5H99.9V522.4H102.1V524.5H104.2V526.7H102.1V528.8H99.9V526.7H97.8Z" fill="#00bc8c"/>
<path d="M119.8,479.9H121.9V477.8H124.1V479.9H126.2V482.1H124.1V484.2H121.9V482.1H119.8Z" fill="#00bc8c"/>
<path d="M121.2,498.3H123.3V496.2H125.5V498.3H127.6V500.5H125.5V502.6H123.3V500.5H121.2Z" fill="#00bc8c"/>
<path d="M134.8,500.9H136.9V498.8H139.1V500.9H141.2V503.1H139.1V505.2H136.9V503.1H134.8Z" fill="#00bc8c"/>
<path d="M139.8,503.5H141.9V501.4H144.1V503.5H146.2V505.7H144.1V507.8H141.9V505.7H139.8Z" fill="#00bc8c"/>
<path d="M143.8,503.5H145.9V501.4H148.1V503.5H150.2V505.7H148.1V507.8H145.9V505.7H143.8Z" fill="#00bc8c"/>
<path d="M144.8,490.5H146.9V488.4H149.1V490.5H151.2V492.7H149.1V494.8H146.9V492.7H144.8Z" fill="#00bc8c"/>
<path d="M149.8,493.3H151.9V491.2H154.1V493.3H156.2V495.5H154.1V497.6H151.9V495.5H149.8Z" fill="#00bc8c"/>
<path d="M142.8,475.5H144.9V473.4H147.1V475.5H149.2V477.7H147.1V479.8H144.9V477.7H142.8Z" fill="#00bc8c"/>
<path d="M159.8,472.9H161.9V470.8H164.1V472.9H166.2V475.1H164.1V477.2H161.9V475.1H159.8Z" fill="#00bc8c"/>
<path d="M169.4,472.5H171.5V470.4H173.7V472.5H175.8V474.7H173.7V476.8H171.5V474.7H169.4Z" fill="#00bc8c"/>
<path d="M152.8,506.5H154.9V504.4H157.1V506.5H159.2V508.7H157.1V510.8H154.9V508.7H152.8Z" fill="#00bc8c"/>
<path d="M157.8,503.9H159.9V501.8H162.1V503.9H164.2V506.1H162.1V508.2H159.9V506.1H157.8Z" fill="#00bc8c"/>
<path d="M159.8,500.9H161.9V498.8H164.1V500.9H166.2V503.1H164.1V505.2H161.9V503.1H159.8Z" fill="#00bc8c"/>
<path d="M169.2,500.9H171.3V498.8H173.5V500.9H175.6V503.1H173.5V505.2H171.3V503.1H169.2Z" fill="#00bc8c"/>
<path d="M174.8,500.5H176.9V498.4H179.1V500.5H181.2V502.7H179.1V504.8H176.9V502.7H174.8Z" fill="#00bc8c"/>
<path d="M179.8,498.3H181.9V496.2H184.1V498.3H186.2V500.5H184.1V502.6H181.9V500.5H179.8Z" fill="#00bc8c"/>
<path d="M184.8,497.9H186.9V495.8H189.1V497.9H191.2V500.1H189.1V502.2H186.9V500.1H184.8Z" fill="#00bc8c"/>
<path d="M185.8,474.9H187.9V472.8H190.1V474.9H192.2V477.1H190.1V479.2H187.9V477.1H185.8Z" fill="#00bc8c"/>
<path d="M194.8,467.9H196.9V465.8H199.1V467.9H201.2V470.1H199.1V472.2H196.9V470.1H194.8Z" fill="#00bc8c"/>
<path d="M209.8,485.5H211.9V483.4H214.1V485.5H216.2V487.7H214.1V489.8H211.9V487.7H209.8Z" fill="#00bc8c"/>
<path d="M207.8,464.3H209.9V462.2H212.1V464.3H214.2V466.5H212.1V468.6H209.9V466.5H207.8Z" fill="#00bc8c"/>
<path d="M210.4,469.9H212.5V467.8H214.7V469.9H216.8V472.1H214.7V474.2H212.5V472.1H210.4Z" fill="#00bc8c"/>
<path d="M215.8,467.5H217.9V465.4H220.1V467.5H222.2V469.7H220.1V471.8H217.9V469.7H215.8Z" fill="#00bc8c"/>
<path d="M220.8,472.5H222.9V470.4H225.1V472.5H227.2V474.7H225.1V476.8H222.9V474.7H220.8Z" fill="#00bc8c"/>
<path d="M220.8,480.3H222.9V478.2H225.1V480.3H227.2V482.5H225.1V484.6H222.9V482.5H220.8Z" fill="#00bc8c"/>
<path d="M223.8,462.5H225.9V460.4H228.1V462.5H230.2V464.7H228.1V466.8H225.9V464.7H223.8Z" fill="#00bc8c"/>
<path d="M227.8,467.5H229.9V465.4H232.1V467.5H234.2V469.7H232.1V471.8H229.9V469.7H227.8Z" fill="#00bc8c"/>
<path d="M234.8,458.9H236.9V456.8H239.1V458.9H241.2V461.1H239.1V463.2H236.9V461.1H234.8Z" fill="#00bc8c"/>
<path d="M239.8,477.5H241.9V475.4H244.1V477.5H246.2V479.7H244.1V481.8H241.9V479.7H239.8Z" fill="#00bc8c"/>
<path d="M239.8,482.9H241.9V480.8H244.1V482.9H246.2V485.1H244.1V487.2H241.9V485.1H239.8Z" fill="#00bc8c"/>
<path d="M244.8,480.3H246.9V478.2H249.1V480.3H251.2V482.5H249.1V484.6H246.9V482.5H244.8Z" fill="#00bc8c"/>
<path d="M247.8,469.9H249.9V467.8H252.1V469.9H254.2V472.1H252.1V474.2H249.9V472.1H247.8Z" fill="#00bc8c"/>
<path d="M244.8,459.5H246.9V457.4H249.1V459.5H251.2V461.7H249.1V463.8H246.9V461.7H244.8Z" fill="#00bc8c"/>
<path d="M254.4,456.9H256.5V454.8H258.7V456.9H260.8V459.1H258.7V461.2H256.5V459.1H254.4Z" fill="#00bc8c"/>
<path d="M257.8,462.5H259.9V460.4H262.1V462.5H264.2V464.7H262.1V466.8H259.9V464.7H257.8Z" fill="#00bc8c"/>
<path d="M263.8,454.9H265.9V452.8H268.1V454.9H270.2V457.1H268.1V459.2H265.9V457.1H263.8Z" fill="#00bc8c"/>
<path d="M275.8,456.9H277.9V454.8H280.1V456.9H282.2V459.1H280.1V461.2H277.9V459.1H275.8Z" fill="#00bc8c"/>
<path d="M284.8,448.9H286.9V446.8H289.1V448.9H291.2V451.1H289.1V453.2H286.9V451.1H284.8Z" fill="#00bc8c"/>
<path d="M289.8,448.9H291.9V446.8H294.1V448.9H296.2V451.1H294.1V453.2H291.9V451.1H289.8Z" fill="#00bc8c"/>
<path d="M294.8,443.9H296.9V441.8H299.1V443.9H301.2V446.1H299.1V448.2H296.9V446.1H294.8Z" fill="#00bc8c"/>
<path d="M237.8,410.9H239.9V408.8H242.1V410.9H244.2V413.1H242.1V415.2H239.9V413.1H237.8Z" fill="#00bc8c"/>
<path d="M447.4,374.9H449.5V372.8H451.7V374.9H453.8V377.1H451.7V379.2H449.5V377.1H447.4Z" fill="#00bc8c"/>
<path d="M467.4,364.3H469.5V362.2H471.7V364.3H473.8V366.5H471.7V368.6H469.5V366.5H467.4Z" fill="#00bc8c"/>
<path d="M467.6,353.9H469.7V351.8H471.9V353.9H474.0V356.1H471.9V358.2H469.7V356.1H467.6Z" fill="#00bc8c"/>
<path d="M482.3,348.6H484.4V346.5H486.6V348.6H488.7V350.8H486.6V352.9H484.4V350.8H482.3Z" fill="#00bc8c"/>
<path d="M481.8,339.9H483.9V337.8H486.1V339.9H488.2V342.1H486.1V344.2H483.9V342.1H481.8Z" fill="#00bc8c"/>
<path d="M482.3,328.1H484.4V326.0H486.6V328.1H488.7V330.3H486.6V332.4H484.4V330.3H482.3Z" fill="#00bc8c"/>
<path d="M492.0,325.4H494.1V323.3H496.3V325.4H498.4V327.6H496.3V329.7H494.1V327.6H492.0Z" fill="#00bc8c"/>
<path d="M496.0,317.9H498.1V315.8H500.3V317.9H502.4V320.1H500.3V322.2H498.1V320.1H496.0Z" fill="#00bc8c"/>
<path d="M504.6,332.9H506.7V330.8H508.9V332.9H511.0V335.1H508.9V337.2H506.7V335.1H504.6Z" fill="#00bc8c"/>
<path d="M507.3,326.4H509.4V324.3H511.6V326.4H513.7V328.6H511.6V330.7H509.4V328.6H507.3Z" fill="#00bc8c"/>
<path d="M501.8,314.9H503.9V312.8H506.1V314.9H508.2V317.1H506.1V319.2H503.9V317.1H501.8Z" fill="#00bc8c"/>
<path d="M507.3,315.7H509.4V313.6H511.6V315.7H513.7V317.9H511.6V320.0H509.4V317.9H507.3Z" fill="#00bc8c"/>
<path d="M511.8,313.4H513.9V311.3H516.1V313.4H518.2V315.6H516.1V317.7H513.9V315.6H511.8Z" fill="#00bc8c"/>
<path d="M515.8,312.9H517.9V310.8H520.1V312.9H522.2V315.1H520.1V317.2H517.9V315.1H515.8Z" fill="#00bc8c"/>
<path d="M513.8,320.4H515.9V318.3H518.1V320.4H520.2V322.6H518.1V324.7H515.9V322.6H513.8Z" fill="#00bc8c"/>
<path d="M516.8,310.4H518.9V308.3H521.1V310.4H523.2V312.6H521.1V314.7H518.9V312.6H516.8Z" fill="#00bc8c"/>
<path d="M512.0,299.7H514.1V297.6H516.3V299.7H518.4V301.9H516.3V304.0H514.1V301.9H512.0Z" fill="#00bc8c"/>
<path d="M517.3,300.9H519.4V298.8H521.6V300.9H523.7V303.1H521.6V305.2H519.4V303.1H517.3Z" fill="#00bc8c"/>
<path d="M522.3,296.9H524.4V294.8H526.6V296.9H528.7V299.1H526.6V301.2H524.4V299.1H522.3Z" fill="#00bc8c"/>
<path d="M526.3,296.4H528.4V294.3H530.6V296.4H532.7V298.6H530.6V300.7H528.4V298.6H526.3Z" fill="#00bc8c"/>
<path d="M522.8,306.9H524.9V304.8H527.1V306.9H529.2V309.1H527.1V311.2H524.9V309.1H522.8Z" fill="#00bc8c"/>
<path d="M527.3,322.9H529.4V320.8H531.6V322.9H533.7V325.1H531.6V327.2H529.4V325.1H527.3Z" fill="#00bc8c"/>
<path d="M517.3,332.9H519.4V330.8H521.6V332.9H523.7V335.1H521.6V337.2H519.4V335.1H517.3Z" fill="#00bc8c"/>
<path d="M512.3,338.4H514.4V336.3H516.6V338.4H518.7V340.6H516.6V342.7H514.4V340.6H512.3Z" fill="#00bc8c"/>
<path d="M514.8,338.4H516.9V336.3H519.1V338.4H521.2V340.6H519.1V342.7H516.9V340.6H514.8Z" fill="#00bc8c"/>
<path d="M522.3,340.9H524.4V338.8H526.6V340.9H528.7V343.1H526.6V345.2H524.4V343.1H522.3Z" fill="#00bc8c"/>
<path d="M512.3,346.1H514.4V344.0H516.6V346.1H518.7V348.3H516.6V350.4H514.4V348.3H512.3Z" fill="#00bc8c"/>
<path d="M517.3,346.1H519.4V344.0H521.6V346.1H523.7V348.3H521.6V350.4H519.4V348.3H517.3Z" fill="#00bc8c"/>
<path d="M507.3,351.4H509.4V349.3H511.6V351.4H513.7V353.6H511.6V355.7H509.4V353.6H507.3Z" fill="#00bc8c"/>
<path d="M542.0,315.1H544.1V313.0H546.3V315.1H548.4V317.3H546.3V319.4H544.1V317.3H542.0Z" fill="#00bc8c"/>
<path d="M547.1,309.9H549.2V307.8H551.4V309.9H553.5V312.1H551.4V314.2H549.2V312.1H547.1Z" fill="#00bc8c"/>
<path d="M552.3,289.9H554.4V287.8H556.6V289.9H558.7V292.1H556.6V294.2H554.4V292.1H552.3Z" fill="#00bc8c"/>
<path d="M527.8,290.4H529.9V288.3H532.1V290.4H534.2V292.6H532.1V294.7H529.9V292.6H527.8Z" fill="#00bc8c"/>
<path d="M509.8,316.1H511.9V314.0H514.1V316.1H516.2V318.3H514.1V320.4H511.9V318.3H509.8Z" fill="#00bc8c"/>
<path d="M514.3,315.5H516.4V313.4H518.6V315.5H520.7V317.7H518.6V319.8H516.4V317.7H514.3Z" fill="#00bc8c"/>
<path d="M518.0,314.5H520.1V312.4H522.3V314.5H524.4V316.7H522.3V318.8H520.1V316.7H518.0Z" fill="#00bc8c"/>
<path d="M511.3,311.7H513.4V309.6H515.6V311.7H517.7V313.9H515.6V316.0H513.4V313.9H511.3Z" fill="#00bc8c"/>
<path d="M547.1,242.7H549.2V240.6H551.4V242.7H553.5V244.9H551.4V247.0H549.2V244.9H547.1Z" fill="#00bc8c"/>
<path d="M541.6,260.9H543.7V258.8H545.9V260.9H548.0V263.1H545.9V265.2H543.7V263.1H541.6Z" fill="#00bc8c"/>
<path d="M547.3,263.4H549.4V261.3H551.6V263.4H553.7V265.6H551.6V267.7H549.4V265.6H547.3Z" fill="#00bc8c"/>
<path d="M552.3,262.9H554.4V260.8H556.6V262.9H558.7V265.1H556.6V267.2H554.4V265.1H552.3Z" fill="#00bc8c"/>
<path d="M531.8,270.9H533.9V268.8H536.1V270.9H538.2V273.1H536.1V275.2H533.9V273.1H531.8Z" fill="#00bc8c"/>
<path d="M532.3,273.9H534.4V271.8H536.6V273.9H538.7V276.1H536.6V278.2H534.4V276.1H532.3Z" fill="#00bc8c"/>
<path d="M542.1,275.9H544.2V273.8H546.4V275.9H548.5V278.1H546.4V280.2H544.2V278.1H542.1Z" fill="#00bc8c"/>
<path d="M551.8,274.4H553.9V272.3H556.1V274.4H558.2V276.6H556.1V278.7H553.9V276.6H551.8Z" fill="#00bc8c"/>
<path d="M527.1,281.7H529.2V279.6H531.4V281.7H533.5V283.9H531.4V286.0H529.2V283.9H527.1Z" fill="#00bc8c"/>
<path d="M575.8,159.4H577.9V157.3H580.1V159.4H582.2V161.6H580.1V163.7H577.9V161.6H575.8Z" fill="#00bc8c"/>
<path d="M575.8,172.9H577.9V170.8H580.1V172.9H582.2V175.1H580.1V177.2H577.9V175.1H575.8Z" fill="#00bc8c"/>
<path d="M575.3,184.9H577.4V182.8H579.6V184.9H581.7V187.1H579.6V189.2H577.4V187.1H575.3Z" fill="#00bc8c"/>
<path d="M574.3,188.9H576.4V186.8H578.6V188.9H580.7V191.1H578.6V193.2H576.4V191.1H574.3Z" fill="#00bc8c"/>
<path d="M574.0,191.4H576.1V189.3H578.3V191.4H580.4V193.6H578.3V195.7H576.1V193.6H574.0Z" fill="#00bc8c"/>
<path d="M574.0,196.7H576.1V194.6H578.3V196.7H580.4V198.9H578.3V201.0H576.1V198.9H574.0Z" fill="#00bc8c"/>
<path d="M574.0,201.7H576.1V199.6H578.3V201.7H580.4V203.9H578.3V206.0H576.1V203.9H574.0Z" fill="#00bc8c"/>
<path d="M598.8,206.7H600.9V204.6H603.1V206.7H605.2V208.9H603.1V211.0H600.9V208.9H598.8Z" fill="#00bc8c"/>
<path d="M598.3,224.9H600.4V222.8H602.6V224.9H604.7V227.1H602.6V229.2H600.4V227.1H598.3Z" fill="#00bc8c"/>
<path d="M596.3,232.1H598.4V230.0H600.6V232.1H602.7V234.3H600.6V236.4H598.4V234.3H596.3Z" fill="#00bc8c"/>
<path d="M605.3,245.4H607.4V243.3H609.6V245.4H611.7V247.6H609.6V249.7H607.4V247.6H605.3Z" fill="#00bc8c"/>
<path d="M601.8,263.4H603.9V261.3H606.1V263.4H608.2V265.6H606.1V267.7H603.9V265.6H601.8Z" fill="#00bc8c"/>
<path d="M613.8,272.9H615.9V270.8H618.1V272.9H620.2V275.1H618.1V277.2H615.9V275.1H613.8Z" fill="#00bc8c"/>
<path d="M611.8,277.9H613.9V275.8H616.1V277.9H618.2V280.1H616.1V282.2H613.9V280.1H611.8Z" fill="#00bc8c"/>
<path d="M605.8,252.9H607.9V250.8H610.1V252.9H612.2V255.1H610.1V257.2H607.9V255.1H605.8Z" fill="#00bc8c"/>
<path d="M623.8,289.9H625.9V287.8H628.1V289.9H630.2V292.1H628.1V294.2H625.9V292.1H623.8Z" fill="#00bc8c"/>
<path d="M619.8,293.4H621.9V291.3H624.1V293.4H626.2V295.6H624.1V297.7H621.9V295.6H619.8Z" fill="#00bc8c"/>
<path d="M624.3,294.4H626.4V292.3H628.6V294.4H630.7V296.6H628.6V298.7H626.4V296.6H624.3Z" fill="#00bc8c"/>
<path d="M616.8,307.4H618.9V305.3H621.1V307.4H623.2V309.6H621.1V311.7H618.9V309.6H616.8Z" fill="#00bc8c"/>
<path d="M620.8,306.4H622.9V304.3H625.1V306.4H627.2V308.6H625.1V310.7H622.9V308.6H620.8Z" fill="#00bc8c"/>
<path d="M624.3,307.4H626.4V305.3H628.6V307.4H630.7V309.6H628.6V311.7H626.4V309.6H624.3Z" fill="#00bc8c"/>
<path d="M628.8,312.9H630.9V310.8H633.1V312.9H635.2V315.1H633.1V317.2H630.9V315.1H628.8Z" fill="#00bc8c"/>
<path d="M628.8,316.4H630.9V314.3H633.1V316.4H635.2V318.6H633.1V320.7H630.9V318.6H628.8Z" fill="#00bc8c"/>
<path d="M621.8,321.9H623.9V319.8H626.1V321.9H628.2V324.1H626.1V326.2H623.9V324.1H621.8Z" fill="#00bc8c"/>
<path d="M616.8,327.9H618.9V325.8H621.1V327.9H623.2V330.1H621.1V332.2H618.9V330.1H616.8Z" fill="#00bc8c"/>
<path d="M645.3,330.4H647.4V328.3H649.6V330.4H651.7V332.6H649.6V334.7H647.4V332.6H645.3Z" fill="#00bc8c"/>
<path d="M636.8,332.9H638.9V330.8H641.1V332.9H643.2V335.1H641.1V337.2H638.9V335.1H636.8Z" fill="#00bc8c"/>
<path d="M633.8,331.9H635.9V329.8H638.1V331.9H640.2V334.1H638.1V336.2H635.9V334.1H633.8Z" fill="#00bc8c"/>
<path d="M623.3,335.9H625.4V333.8H627.6V335.9H629.7V338.1H627.6V340.2H625.4V338.1H623.3Z" fill="#00bc8c"/>
<path d="M624.8,339.4H626.9V337.3H629.1V339.4H631.2V341.6H629.1V343.7H626.9V341.6H624.8Z" fill="#00bc8c"/>
<path d="M644.3,339.9H646.4V337.8H648.6V339.9H650.7V342.1H648.6V344.2H646.4V342.1H644.3Z" fill="#00bc8c"/>
<path d="M648.8,339.9H650.9V337.8H653.1V339.9H655.2V342.1H653.1V344.2H650.9V342.1H648.8Z" fill="#00bc8c"/>
<path d="M644.3,343.4H646.4V341.3H648.6V343.4H650.7V345.6H648.6V347.7H646.4V345.6H644.3Z" fill="#00bc8c"/>
<path d="M651.8,350.9H653.9V348.8H656.1V350.9H658.2V353.1H656.1V355.2H653.9V353.1H651.8Z" fill="#00bc8c"/>
<path d="M643.3,354.9H645.4V352.8H647.6V354.9H649.7V357.1H647.6V359.2H645.4V357.1H643.3Z" fill="#00bc8c"/>
<path d="M633.8,358.9H635.9V356.8H638.1V358.9H640.2V361.1H638.1V363.2H635.9V361.1H633.8Z" fill="#00bc8c"/>
<path d="M638.8,361.4H640.9V359.3H643.1V361.4H645.2V363.6H643.1V365.7H640.9V363.6H638.8Z" fill="#00bc8c"/>
<path d="M642.8,361.4H644.9V359.3H647.1V361.4H649.2V363.6H647.1V365.7H644.9V363.6H642.8Z" fill="#00bc8c"/>
<path d="M658.8,359.9H660.9V357.8H663.1V359.9H665.2V362.1H663.1V364.2H660.9V362.1H658.8Z" fill="#00bc8c"/>
<path d="M664.8,356.4H666.9V354.3H669.1V356.4H671.2V358.6H669.1V360.7H666.9V358.6H664.8Z" fill="#00bc8c"/>
<path d="M663.8,361.9H665.9V359.8H668.1V361.9H670.2V364.1H668.1V366.2H665.9V364.1H663.8Z" fill="#00bc8c"/>
<path d="M653.8,363.9H655.9V361.8H658.1V363.9H660.2V366.1H658.1V368.2H655.9V366.1H653.8Z" fill="#00bc8c"/>
<path d="M648.8,368.9H650.9V366.8H653.1V368.9H655.2V371.1H653.1V373.2H650.9V371.1H648.8Z" fill="#00bc8c"/>
<path d="M663.8,366.9H665.9V364.8H668.1V366.9H670.2V369.1H668.1V371.2H665.9V369.1H663.8Z" fill="#00bc8c"/>
<path d="M668.8,368.4H670.9V366.3H673.1V368.4H675.2V370.6H673.1V372.7H670.9V370.6H668.8Z" fill="#00bc8c"/>
<path d="M658.8,369.4H660.9V367.3H663.1V369.4H665.2V371.6H663.1V373.7H660.9V371.6H658.8Z" fill="#00bc8c"/>
<path d="M653.8,376.4H655.9V374.3H658.1V376.4H660.2V378.6H658.1V380.7H655.9V378.6H653.8Z" fill="#00bc8c"/>
<path d="M663.8,374.9H665.9V372.8H668.1V374.9H670.2V377.1H668.1V379.2H665.9V377.1H663.8Z" fill="#00bc8c"/>
<path d="M658.8,378.9H660.9V376.8H663.1V378.9H665.2V381.1H663.1V383.2H660.9V381.1H658.8Z" fill="#00bc8c"/>
<path d="M654.3,382.9H656.4V380.8H658.6V382.9H660.7V385.1H658.6V387.2H656.4V385.1H654.3Z" fill="#00bc8c"/>
<path d="M673.8,378.9H675.9V376.8H678.1V378.9H680.2V381.1H678.1V383.2H675.9V381.1H673.8Z" fill="#00bc8c"/>
<path d="M678.8,385.4H680.9V383.3H683.1V385.4H685.2V387.6H683.1V389.7H680.9V387.6H678.8Z" fill="#00bc8c"/>
<path d="M679.3,394.9H681.4V392.8H683.6V394.9H685.7V397.1H683.6V399.2H681.4V397.1H679.3Z" fill="#00bc8c"/>
<path d="M698.8,381.9H700.9V379.8H703.1V381.9H705.2V384.1H703.1V386.2H700.9V384.1H698.8Z" fill="#00bc8c"/>
<path d="M684.3,407.9H686.4V405.8H688.6V407.9H690.7V410.1H688.6V412.2H686.4V410.1H684.3Z" fill="#00bc8c"/>
<path d="M684.3,411.4H686.4V409.3H688.6V411.4H690.7V413.6H688.6V415.7H686.4V413.6H684.3Z" fill="#00bc8c"/>
<path d="M638.8,405.4H640.9V403.3H643.1V405.4H645.2V407.6H643.1V409.7H640.9V407.6H638.8Z" fill="#00bc8c"/>
<path d="M693.8,387.9H695.9V385.8H698.1V387.9H700.2V390.1H698.1V392.2H695.9V390.1H693.8Z" fill="#00bc8c"/>
<path d="M698.8,391.9H700.9V389.8H703.1V391.9H705.2V394.1H703.1V396.2H700.9V394.1H698.8Z" fill="#00bc8c"/>
<path d="M703.8,389.9H705.9V387.8H708.1V389.9H710.2V392.1H708.1V394.2H705.9V392.1H703.8Z" fill="#00bc8c"/>
<path d="M708.3,388.9H710.4V386.8H712.6V388.9H714.7V391.1H712.6V393.2H710.4V391.1H708.3Z" fill="#00bc8c"/>
<path d="M693.8,394.9H695.9V392.8H698.1V394.9H700.2V397.1H698.1V399.2H695.9V397.1H693.8Z" fill="#00bc8c"/>
<path d="M708.3,394.9H710.4V392.8H712.6V394.9H714.7V397.1H712.6V399.2H710.4V397.1H708.3Z" fill="#00bc8c"/>
<path d="M698.8,399.9H700.9V397.8H703.1V399.9H705.2V402.1H703.1V404.2H700.9V402.1H698.8Z" fill="#00bc8c"/>
<path d="M703.8,396.9H705.9V394.8H708.1V396.9H710.2V399.1H708.1V401.2H705.9V399.1H703.8Z" fill="#00bc8c"/>
<path d="M713.8,399.4H715.9V397.3H718.1V399.4H720.2V401.6H718.1V403.7H715.9V401.6H713.8Z" fill="#00bc8c"/>
<path d="M718.8,394.9H720.9V392.8H723.1V394.9H725.2V397.1H723.1V399.2H720.9V397.1H718.8Z" fill="#00bc8c"/>
<path d="M719.8,399.9H721.9V397.8H724.1V399.9H726.2V402.1H724.1V404.2H721.9V402.1H719.8Z" fill="#00bc8c"/>
<path d="M723.8,398.9H725.9V396.8H728.1V398.9H730.2V401.1H728.1V403.2H725.9V401.1H723.8Z" fill="#00bc8c"/>
<path d="M708.8,403.9H710.9V401.8H713.1V403.9H715.2V406.1H713.1V408.2H710.9V406.1H708.8Z" fill="#00bc8c"/>
<path d="M713.8,405.4H715.9V403.3H718.1V405.4H720.2V407.6H718.1V409.7H715.9V407.6H713.8Z" fill="#00bc8c"/>
<path d="M723.8,405.4H725.9V403.3H728.1V405.4H730.2V407.6H728.1V409.7H725.9V407.6H723.8Z" fill="#00bc8c"/>
<path d="M693.8,405.4H695.9V403.3H698.1V405.4H700.2V407.6H698.1V409.7H695.9V407.6H693.8Z" fill="#00bc8c"/>
<path d="M703.8,407.9H705.9V405.8H708.1V407.9H710.2V410.1H708.1V412.2H705.9V410.1H703.8Z" fill="#00bc8c"/>
<path d="M701.3,412.9H703.4V410.8H705.6V412.9H707.7V415.1H705.6V417.2H703.4V415.1H701.3Z" fill="#00bc8c"/>
<path d="M721.8,414.9H723.9V412.8H726.1V414.9H728.2V417.1H726.1V419.2H723.9V417.1H721.8Z" fill="#00bc8c"/>
<path d="M726.8,415.4H728.9V413.3H731.1V415.4H733.2V417.6H731.1V419.7H728.9V417.6H726.8Z" fill="#00bc8c"/>
<path d="M731.8,412.9H733.9V410.8H736.1V412.9H738.2V415.1H736.1V417.2H733.9V415.1H731.8Z" fill="#00bc8c"/>
<path d="M738.8,417.9H740.9V415.8H743.1V417.9H745.2V420.1H743.1V422.2H740.9V420.1H738.8Z" fill="#00bc8c"/>
<path d="M738.8,422.4H740.9V420.3H743.1V422.4H745.2V424.6H743.1V426.7H740.9V424.6H738.8Z" fill="#00bc8c"/>
<path d="M733.8,423.4H735.9V421.3H738.1V423.4H740.2V425.6H738.1V427.7H735.9V425.6H733.8Z" fill="#00bc8c"/>
<path d="M743.8,425.4H745.9V423.3H748.1V425.4H750.2V427.6H748.1V429.7H745.9V427.6H743.8Z" fill="#00bc8c"/>
<path d="M748.8,418.4H750.9V416.3H753.1V418.4H755.2V420.6H753.1V422.7H750.9V420.6H748.8Z" fill="#00bc8c"/>
<path d="M748.8,427.9H750.9V425.8H753.1V427.9H755.2V430.1H753.1V432.2H750.9V430.1H748.8Z" fill="#00bc8c"/>
<path d="M753.8,425.9H755.9V423.8H758.1V425.9H760.2V428.1H758.1V430.2H755.9V428.1H753.8Z" fill="#00bc8c"/>
<path d="M758.8,428.4H760.9V426.3H763.1V428.4H765.2V430.6H763.1V432.7H760.9V430.6H758.8Z" fill="#00bc8c"/>
<path d="M756.8,412.9H758.9V410.8H761.1V412.9H763.2V415.1H761.1V417.2H758.9V415.1H756.8Z" fill="#00bc8c"/>
<path d="M763.8,430.9H765.9V428.8H768.1V430.9H770.2V433.1H768.1V435.2H765.9V433.1H763.8Z" fill="#00bc8c"/>
<path d="M751.8,436.4H753.9V434.3H756.1V436.4H758.2V438.6H756.1V440.7H753.9V438.6H751.8Z" fill="#00bc8c"/>
<path d="M757.8,436.4H759.9V434.3H762.1V436.4H764.2V438.6H762.1V440.7H759.9V438.6H757.8Z" fill="#00bc8c"/>
<path d="M738.8,441.4H740.9V439.3H743.1V441.4H745.2V443.6H743.1V445.7H740.9V443.6H738.8Z" fill="#00bc8c"/>
<path d="M743.8,441.4H745.9V439.3H748.1V441.4H750.2V443.6H748.1V445.7H745.9V443.6H743.8Z" fill="#00bc8c"/>
<path d="M753.8,444.4H755.9V442.3H758.1V444.4H760.2V446.6H758.1V448.7H755.9V446.6H753.8Z" fill="#00bc8c"/>
<path d="M723.8,446.9H725.9V444.8H728.1V446.9H730.2V449.1H728.1V451.2H725.9V449.1H723.8Z" fill="#00bc8c"/>
<path d="M752.3,451.9H754.4V449.8H756.6V451.9H758.7V454.1H756.6V456.2H754.4V454.1H752.3Z" fill="#00bc8c"/>
<path d="M743.3,452.9H745.4V450.8H747.6V452.9H749.7V455.1H747.6V457.2H745.4V455.1H743.3Z" fill="#00bc8c"/>
<path d="M698.8,423.4H700.9V421.3H703.1V423.4H705.2V425.6H703.1V427.7H700.9V425.6H698.8Z" fill="#00bc8c"/>
<path d="M703.8,425.9H705.9V423.8H708.1V425.9H710.2V428.1H708.1V430.2H705.9V428.1H703.8Z" fill="#00bc8c"/>
<path d="M713.8,428.9H715.9V426.8H718.1V428.9H720.2V431.1H718.1V433.2H715.9V431.1H713.8Z" fill="#00bc8c"/>
<path d="M718.8,433.4H720.9V431.3H723.1V433.4H725.2V435.6H723.1V437.7H720.9V435.6H718.8Z" fill="#00bc8c"/>
<path d="M698.8,433.4H700.9V431.3H703.1V433.4H705.2V435.6H703.1V437.7H700.9V435.6H698.8Z" fill="#00bc8c"/>
<path d="M702.3,433.4H704.4V431.3H706.6V433.4H708.7V435.6H706.6V437.7H704.4V435.6H702.3Z" fill="#00bc8c"/>
<path d="M791.8,415.9H793.9V413.8H796.1V415.9H798.2V418.1H796.1V420.2H793.9V418.1H791.8Z" fill="#00bc8c"/>
<path d="M783.3,425.4H785.4V423.3H787.6V425.4H789.7V427.6H787.6V429.7H785.4V427.6H783.3Z" fill="#00bc8c"/>
<path d="M791.8,425.9H793.9V423.8H796.1V425.9H798.2V428.1H796.1V430.2H793.9V428.1H791.8Z" fill="#00bc8c"/>
<path d="M778.8,433.4H780.9V431.3H783.1V433.4H785.2V435.6H783.1V437.7H780.9V435.6H778.8Z" fill="#00bc8c"/>
<path d="M783.3,431.9H785.4V429.8H787.6V431.9H789.7V434.1H787.6V436.2H785.4V434.1H783.3Z" fill="#00bc8c"/>
<path d="M772.8,438.9H774.9V436.8H777.1V438.9H779.2V441.1H777.1V443.2H774.9V441.1H772.8Z" fill="#00bc8c"/>
<path d="M791.8,438.9H793.9V436.8H796.1V438.9H798.2V441.1H796.1V443.2H793.9V441.1H791.8Z" fill="#00bc8c"/>
<path d="M773.8,449.4H775.9V447.3H778.1V449.4H780.2V451.6H778.1V453.7H775.9V451.6H773.8Z" fill="#00bc8c"/>
<path d="M791.8,448.9H793.9V446.8H796.1V448.9H798.2V451.1H796.1V453.2H793.9V451.1H791.8Z" fill="#00bc8c"/>
<path d="M783.8,452.9H785.9V450.8H788.1V452.9H790.2V455.1H788.1V457.2H785.9V455.1H783.8Z" fill="#00bc8c"/>
<path d="M788.8,448.9H790.9V446.8H793.1V448.9H795.2V451.1H793.1V453.2H790.9V451.1H788.8Z" fill="#00bc8c"/>
<path d="M795.8,451.9H797.9V449.8H800.1V451.9H802.2V454.1H800.1V456.2H797.9V454.1H795.8Z" fill="#00bc8c"/>
<path d="M738.8,459.9H740.9V457.8H743.1V459.9H745.2V462.1H743.1V464.2H740.9V462.1H738.8Z" fill="#00bc8c"/>
<path d="M748.8,459.9H750.9V457.8H753.1V459.9H755.2V462.1H753.1V464.2H750.9V462.1H748.8Z" fill="#00bc8c"/>
<path d="M756.8,459.9H758.9V457.8H761.1V459.9H763.2V462.1H761.1V464.2H758.9V462.1H756.8Z" fill="#00bc8c"/>
<path d="M788.8,469.9H790.9V467.8H793.1V469.9H795.2V472.1H793.1V474.2H790.9V472.1H788.8Z" fill="#00bc8c"/>
<path d="M798.8,469.9H800.9V467.8H803.1V469.9H805.2V472.1H803.1V474.2H800.9V472.1H798.8Z" fill="#00bc8c"/>
<path d="M803.8,482.9H805.9V480.8H808.1V482.9H810.2V485.1H808.1V487.2H805.9V485.1H803.8Z" fill="#00bc8c"/>
<path d="M791.8,462.4H793.9V460.3H796.1V462.4H798.2V464.6H796.1V466.7H793.9V464.6H791.8Z" fill="#00bc8c"/>
<path d="M804.3,462.4H806.4V460.3H808.6V462.4H810.7V464.6H808.6V466.7H806.4V464.6H804.3Z" fill="#00bc8c"/>
<path d="M823.8,431.4H825.9V429.3H828.1V431.4H830.2V433.6H828.1V435.7H825.9V433.6H823.8Z" fill="#00bc8c"/>
<path d="M838.8,436.7H840.9V434.6H843.1V436.7H845.2V438.9H843.1V441.0H840.9V438.9H838.8Z" fill="#00bc8c"/>
<path d="M873.3,433.9H875.4V431.8H877.6V433.9H879.7V436.1H877.6V438.2H875.4V436.1H873.3Z" fill="#00bc8c"/>
<path d="M828.8,441.4H830.9V439.3H833.1V441.4H835.2V443.6H833.1V445.7H830.9V443.6H828.8Z" fill="#00bc8c"/>
<path d="M843.3,443.4H845.4V441.3H847.6V443.4H849.7V445.6H847.6V447.7H845.4V445.6H843.3Z" fill="#00bc8c"/>
<path d="M848.3,443.4H850.4V441.3H852.6V443.4H854.7V445.6H852.6V447.7H850.4V445.6H848.3Z" fill="#00bc8c"/>
<path d="M838.8,448.9H840.9V446.8H843.1V448.9H845.2V451.1H843.1V453.2H840.9V451.1H838.8Z" fill="#00bc8c"/>
<path d="M843.3,448.9H845.4V446.8H847.6V448.9H849.7V451.1H847.6V453.2H845.4V451.1H843.3Z" fill="#00bc8c"/>
<path d="M848.3,448.9H850.4V446.8H852.6V448.9H854.7V451.1H852.6V453.2H850.4V451.1H848.3Z" fill="#00bc8c"/>
<path d="M833.8,450.9H835.9V448.8H838.1V450.9H840.2V453.1H838.1V455.2H835.9V453.1H833.8Z" fill="#00bc8c"/>
<path d="M798.8,454.4H800.9V452.3H803.1V454.4H805.2V456.6H803.1V458.7H800.9V456.6H798.8Z" fill="#00bc8c"/>
<path d="M803.8,451.4H805.9V449.3H808.1V451.4H810.2V453.6H808.1V455.7H805.9V453.6H803.8Z" fill="#00bc8c"/>
<path d="M828.8,454.4H830.9V452.3H833.1V454.4H835.2V456.6H833.1V458.7H830.9V456.6H828.8Z" fill="#00bc8c"/>
<path d="M833.8,457.9H835.9V455.8H838.1V457.9H840.2V460.1H838.1V462.2H835.9V460.1H833.8Z" fill="#00bc8c"/>
<path d="M823.8,459.4H825.9V457.3H828.1V459.4H830.2V461.6H828.1V463.7H825.9V461.6H823.8Z" fill="#00bc8c"/>
<path d="M838.8,459.4H840.9V457.3H843.1V459.4H845.2V461.6H843.1V463.7H840.9V461.6H838.8Z" fill="#00bc8c"/>
<path d="M846.8,456.4H848.9V454.3H851.1V456.4H853.2V458.6H851.1V460.7H848.9V458.6H846.8Z" fill="#00bc8c"/>
<path d="M828.8,461.9H830.9V459.8H833.1V461.9H835.2V464.1H833.1V466.2H830.9V464.1H828.8Z" fill="#00bc8c"/>
<path d="M808.3,459.9H810.4V457.8H812.6V459.9H814.7V462.1H812.6V464.2H810.4V462.1H808.3Z" fill="#00bc8c"/>
<path d="M823.8,482.9H825.9V480.8H828.1V482.9H830.2V485.1H828.1V487.2H825.9V485.1H823.8Z" fill="#00bc8c"/>
<path d="M828.8,479.9H830.9V477.8H833.1V479.9H835.2V482.1H833.1V484.2H830.9V482.1H828.8Z" fill="#00bc8c"/>
<path d="M858.3,448.9H860.4V446.8H862.6V448.9H864.7V451.1H862.6V453.2H860.4V451.1H858.3Z" fill="#00bc8c"/>
<path d="M861.3,451.9H863.4V449.8H865.6V451.9H867.7V454.1H865.6V456.2H863.4V454.1H861.3Z" fill="#00bc8c"/>
<path d="M858.3,454.4H860.4V452.3H862.6V454.4H864.7V456.6H862.6V458.7H860.4V456.6H858.3Z" fill="#00bc8c"/>
<path d="M888.8,448.9H890.9V446.8H893.1V448.9H895.2V451.1H893.1V453.2H890.9V451.1H888.8Z" fill="#00bc8c"/>
<path d="M883.3,454.4H885.4V452.3H887.6V454.4H889.7V456.6H887.6V458.7H885.4V456.6H883.3Z" fill="#00bc8c"/>
<path d="M892.8,467.4H894.9V465.3H897.1V467.4H899.2V469.6H897.1V471.7H894.9V469.6H892.8Z" fill="#00bc8c"/>
<path d="M846.8,465.9H848.9V463.8H851.1V465.9H853.2V468.1H851.1V470.2H848.9V468.1H846.8Z" fill="#00bc8c"/>
<path d="M848.8,462.4H850.9V460.3H853.1V462.4H855.2V464.6H853.1V466.7H850.9V464.6H848.8Z" fill="#00bc8c"/>
<path d="M881.8,471.9H883.9V469.8H886.1V471.9H888.2V474.1H886.1V476.2H883.9V474.1H881.8Z" fill="#00bc8c"/>
<path d="M878.8,479.4H880.9V477.3H883.1V479.4H885.2V481.6H883.1V483.7H880.9V481.6H878.8Z" fill="#00bc8c"/>
<path d="M891.3,477.9H893.4V475.8H895.6V477.9H897.7V480.1H895.6V482.2H893.4V480.1H891.3Z" fill="#00bc8c"/>
<path d="M888.3,487.4H890.4V485.3H892.6V487.4H894.7V489.6H892.6V491.7H890.4V489.6H888.3Z" fill="#00bc8c"/>
<path d="M908.3,459.7H910.4V457.6H912.6V459.7H914.7V461.9H912.6V464.0H910.4V461.9H908.3Z" fill="#00bc8c"/>
<path d="M903.3,469.9H905.4V467.8H907.6V469.9H909.7V472.1H907.6V474.2H905.4V472.1H903.3Z" fill="#00bc8c"/>
<path d="M913.3,477.9H915.4V475.8H917.6V477.9H919.7V480.1H917.6V482.2H915.4V480.1H913.3Z" fill="#00bc8c"/>
<path d="M924.8,472.9H926.9V470.8H929.1V472.9H931.2V475.1H929.1V477.2H926.9V475.1H924.8Z" fill="#00bc8c"/>
<path d="M916.3,487.9H918.4V485.8H920.6V487.9H922.7V490.1H920.6V492.2H918.4V490.1H916.3Z" fill="#00bc8c"/>
<path d="M928.8,495.9H930.9V493.8H933.1V495.9H935.2V498.1H933.1V500.2H930.9V498.1H928.8Z" fill="#00bc8c"/>
<path d="M938.3,464.9H940.4V462.8H942.6V464.9H944.7V467.1H942.6V469.2H940.4V467.1H938.3Z" fill="#00bc8c"/>
<path d="M935.8,475.4H937.9V473.3H940.1V475.4H942.2V477.6H940.1V479.7H937.9V477.6H935.8Z" fill="#00bc8c"/>
<path d="M943.3,472.4H945.4V470.3H947.6V472.4H949.7V474.6H947.6V476.7H945.4V474.6H943.3Z" fill="#00bc8c"/>
<path d="M953.3,472.4H955.4V470.3H957.6V472.4H959.7V474.6H957.6V476.7H955.4V474.6H953.3Z" fill="#00bc8c"/>
<path d="M958.3,467.4H960.4V465.3H962.6V467.4H964.7V469.6H962.6V471.7H960.4V469.6H958.3Z" fill="#00bc8c"/>
<path d="M958.3,477.9H960.4V475.8H962.6V477.9H964.7V480.1H962.6V482.2H960.4V480.1H958.3Z" fill="#00bc8c"/>
<path d="M948.3,485.4H950.4V483.3H952.6V485.4H954.7V487.6H952.6V489.7H950.4V487.6H948.3Z" fill="#00bc8c"/>
<path d="M969.8,477.9H971.9V475.8H974.1V477.9H976.2V480.1H974.1V482.2H971.9V480.1H969.8Z" fill="#00bc8c"/>
<path d="M972.8,482.9H974.9V480.8H977.1V482.9H979.2V485.1H977.1V487.2H974.9V485.1H972.8Z" fill="#00bc8c"/>
<path d="M978.3,482.9H980.4V480.8H982.6V482.9H984.7V485.1H982.6V487.2H980.4V485.1H978.3Z" fill="#00bc8c"/>
<path d="M982.8,472.9H984.9V470.8H987.1V472.9H989.2V475.1H987.1V477.2H984.9V475.1H982.8Z" fill="#00bc8c"/>
<path d="M983.3,485.4H985.4V483.3H987.6V485.4H989.7V487.6H987.6V489.7H985.4V487.6H983.3Z" fill="#00bc8c"/>
<path d="M992.8,477.9H994.9V475.8H997.1V477.9H999.2V480.1H997.1V482.2H994.9V480.1H992.8Z" fill="#00bc8c"/>
<path d="M961.3,490.4H963.4V488.3H965.6V490.4H967.7V492.6H965.6V494.7H963.4V492.6H961.3Z" fill="#00bc8c"/>
<path d="M968.3,490.4H970.4V488.3H972.6V490.4H974.7V492.6H972.6V494.7H970.4V492.6H968.3Z" fill="#00bc8c"/>
<path d="M978.3,492.9H980.4V490.8H982.6V492.9H984.7V495.1H982.6V497.2H980.4V495.1H978.3Z" fill="#00bc8c"/>
<path d="M967.8,495.9H969.9V493.8H972.1V495.9H974.2V498.1H972.1V500.2H969.9V498.1H967.8Z" fill="#00bc8c"/>
<path d="M988.3,498.4H990.4V496.3H992.6V498.4H994.7V500.6H992.6V502.7H990.4V500.6H988.3Z" fill="#00bc8c"/>
<path d="M982.8,511.4H984.9V509.3H987.1V511.4H989.2V513.6H987.1V515.7H984.9V513.6H982.8Z" fill="#00bc8c"/>
<path d="M998.3,482.9H1000.4V480.8H1002.6V482.9H1004.7V485.1H1002.6V487.2H1000.4V485.1H998.3Z" fill="#00bc8c"/>
<path d="M1008.3,500.9H1010.4V498.8H1012.6V500.9H1014.7V503.1H1012.6V505.2H1010.4V503.1H1008.3Z" fill="#00bc8c"/>
<path d="M576.3,157.9H578.4V155.8H580.6V157.9H582.7V160.1H580.6V162.2H578.4V160.1H576.3Z" fill="#00bc8c"/>
<path d="M576.4,155.5H578.5V153.3H580.7V155.5H582.9V157.7H580.7V159.8H578.5V157.7H576.4Z" fill="#00bc8c"/>
<path d="M576.6,153.1H578.7V150.9H580.9V153.1H583.0V155.3H580.9V157.4H578.7V155.3H576.6Z" fill="#00bc8c"/>
<path d="M576.7,150.7H578.9V148.5H581.1V150.7H583.2V152.8H581.1V155.0H578.9V152.8H576.7Z" fill="#00bc8c"/>
<path d="M576.9,148.2H579.1V146.1H581.3V148.2H583.4V150.4H581.3V152.6H579.1V150.4H576.9Z" fill="#00bc8c"/>
<path d="M577.1,145.8H579.2V143.7H581.4V145.8H583.6V148.0H581.4V150.2H579.2V148.0H577.1Z" fill="#00bc8c"/>
<path d="M577.3,143.4H579.4V141.3H581.6V143.4H583.8V145.6H581.6V147.7H579.4V145.6H577.3Z" fill="#00bc8c"/>
<path d="M577.5,141.0H579.6V138.8H581.8V141.0H584.0V143.2H581.8V145.3H579.6V143.2H577.5Z" fill="#00bc8c"/>
<path d="M577.7,138.6H579.9V136.4H582.1V138.6H584.2V140.8H582.1V142.9H579.9V140.8H577.7Z" fill="#00bc8c"/>
<path d="M577.9,136.2H580.1V134.0H582.3V136.2H584.4V138.3H582.3V140.5H580.1V138.3H577.9Z" fill="#00bc8c"/>
<path d="M578.1,133.7H580.3V131.6H582.5V133.7H584.6V135.9H582.5V138.1H580.3V135.9H578.1Z" fill="#00bc8c"/>
<path d="M578.4,131.3H580.5V129.2H582.7V131.3H584.8V133.5H582.7V135.7H580.5V133.5H578.4Z" fill="#00bc8c"/>
<path d="M578.6,128.9H580.7V126.8H582.9V128.9H585.1V131.1H582.9V133.2H580.7V131.1H578.6Z" fill="#00bc8c"/>
<path d="M578.8,126.5H580.9V124.3H583.1V126.5H585.3V128.7H583.1V130.8H580.9V128.7H578.8Z" fill="#00bc8c"/>
<path d="M579.0,124.1H581.2V121.9H583.4V124.1H585.5V126.3H583.4V128.4H581.2V126.3H579.0Z" fill="#00bc8c"/>
<path d="M579.3,121.7H581.4V119.5H583.6V121.7H585.7V123.8H583.6V126.0H581.4V123.8H579.3Z" fill="#00bc8c"/>
<path d="M579.5,119.2H581.6V117.1H583.8V119.2H586.0V121.4H583.8V123.6H581.6V121.4H579.5Z" fill="#00bc8c"/>
<path d="M579.7,116.8H581.9V114.7H584.1V116.8H586.2V119.0H584.1V121.2H581.9V119.0H579.7Z" fill="#00bc8c"/>
<path d="M580.0,114.4H582.1V112.3H584.3V114.4H586.4V116.6H584.3V118.7H582.1V116.6H580.0Z" fill="#00bc8c"/>
<path d="M581.1,106.3H583.2V104.2H585.4V106.3H587.5V108.5H585.4V110.6H583.2V108.5H581.1Z" fill="#00bc8c"/>
<path d="M583.3,105.2H585.4V103.1H587.6V105.2H589.7V107.4H587.6V109.5H585.4V107.4H583.3Z" fill="#00bc8c"/>
<path d="M585.6,105.5H587.7V103.4H589.9V105.5H592.0V107.7H589.9V109.8H587.7V107.7H585.6Z" fill="#00bc8c"/>
<path d="M587.4,107.3H589.5V105.2H591.7V107.3H593.8V109.5H591.7V111.6H589.5V109.5H587.4Z" fill="#00bc8c"/>
<path d="M588.2,109.1H590.3V107.0H592.5V109.1H594.6V111.3H592.5V113.4H590.3V111.3H588.2Z" fill="#00bc8c"/>
<path d="M587.1,110.9H589.2V108.8H591.4V110.9H593.5V113.1H591.4V115.2H589.2V113.1H587.1Z" fill="#00bc8c"/>
<path d="M585.8,113.2H587.9V111.1H590.1V113.2H592.2V115.4H590.1V117.5H587.9V115.4H585.8Z" fill="#00bc8c"/>
<path d="M583.3,109.9H585.4V107.8H587.6V109.9H589.7V112.1H587.6V114.2H585.4V112.1H583.3Z" fill="#00bc8c"/>
<path d="M581.1,108.9H583.2V106.8H585.4V108.9H587.5V111.1H585.4V113.2H583.2V111.1H581.1Z" fill="#00bc8c"/>
<path d="M582.0,111.9H584.1V109.8H586.3V111.9H588.4V114.1H586.3V116.2H584.1V114.1H582.0Z" fill="#00bc8c"/>
<path d="M584.6,107.9H586.7V105.8H588.9V107.9H591.0V110.1H588.9V112.2H586.7V110.1H584.6Z" fill="#00bc8c"/>
<path d="M580.2,111.1H582.3V109.0H584.5V111.1H586.6V113.3H584.5V115.4H582.3V113.3H580.2Z" fill="#00bc8c"/>
<path d="M583.8,112.2H585.9V110.1H588.1V112.2H590.2V114.4H588.1V116.5H585.9V114.4H583.8Z" fill="#00bc8c"/>
<path d="M586.6,108.9H588.7V106.8H590.9V108.9H593.0V111.1H590.9V113.2H588.7V111.1H586.6Z" fill="#00bc8c"/>
<path d="M582.3,106.9H584.4V104.8H586.6V106.9H588.7V109.1H586.6V111.2H584.4V109.1H582.3Z" fill="#00bc8c"/>
<path d="M585.3,110.7H587.4V108.6H589.6V110.7H591.7V112.9H589.6V115.0H587.4V112.9H585.3Z" fill="#00bc8c"/>
<path d="M587.6,124.7H589.7V122.6H591.9V124.7H594.0V126.9H591.9V129.0H589.7V126.9H587.6Z" fill="#00bc8c"/>
<path d="M588.0,127.1H590.1V125.0H592.3V127.1H594.4V129.3H592.3V131.5H590.1V129.3H588.0Z" fill="#00bc8c"/>
<path d="M588.3,129.6H590.4V127.4H592.6V129.6H594.7V131.8H592.6V133.9H590.4V131.8H588.3Z" fill="#00bc8c"/>
<path d="M588.5,132.0H590.7V129.9H592.9V132.0H595.0V134.2H592.9V136.3H590.7V134.2H588.5Z" fill="#00bc8c"/>
<path d="M588.8,134.4H590.9V132.3H593.1V134.4H595.2V136.6H593.1V138.8H590.9V136.6H588.8Z" fill="#00bc8c"/>
<path d="M589.0,136.9H591.1V134.7H593.3V136.9H595.5V139.1H593.3V141.2H591.1V139.1H589.0Z" fill="#00bc8c"/>
<path d="M589.2,139.3H591.4V137.2H593.6V139.3H595.7V141.5H593.6V143.6H591.4V141.5H589.2Z" fill="#00bc8c"/>
<path d="M589.4,141.7H591.6V139.6H593.8V141.7H595.9V143.9H593.8V146.1H591.6V143.9H589.4Z" fill="#00bc8c"/>
<path d="M589.7,144.2H591.8V142.0H594.0V144.2H596.1V146.4H594.0V148.5H591.8V146.4H589.7Z" fill="#00bc8c"/>
<path d="M589.9,146.6H592.0V144.5H594.2V146.6H596.3V148.8H594.2V150.9H592.0V148.8H589.9Z" fill="#00bc8c"/>
<path d="M590.1,149.0H592.2V146.9H594.4V149.0H596.5V151.2H594.4V153.4H592.2V151.2H590.1Z" fill="#00bc8c"/>
<path d="M590.3,151.5H592.4V149.3H594.6V151.5H596.7V153.7H594.6V155.8H592.4V153.7H590.3Z" fill="#00bc8c"/>
<path d="M590.5,153.9H592.6V151.8H594.8V153.9H596.9V156.1H594.8V158.2H592.6V156.1H590.5Z" fill="#00bc8c"/>
<g transform="translate(88.4,492.0) rotate(45)"><path d="M-3.2,-1.1H-1.1V-3.2H1.1V-1.1H3.2V1.1H1.1V3.2H-1.1V1.1H-3.2Z" fill="#e74c3c"/></g>
<g transform="translate(114.0,504.0) rotate(45)"><path d="M-3.2,-1.1H-1.1V-3.2H1.1V-1.1H3.2V1.1H1.1V3.2H-1.1V1.1H-3.2Z" fill="#e74c3c"/></g>
<g transform="translate(114.0,507.0) rotate(45)"><path d="M-3.2,-1.1H-1.1V-3.2H1.1V-1.1H3.2V1.1H1.1V3.2H-1.1V1.1H-3.2Z" fill="#e74c3c"/></g>
<g transform="translate(168.6,479.0) rotate(45)"><path d="M-3.2,-1.1H-1.1V-3.2H1.1V-1.1H3.2V1.1H1.1V3.2H-1.1V1.1H-3.2Z" fill="#e74c3c"/></g>
<g transform="translate(288.4,466.0) rotate(45)"><path d="M-3.2,-1.1H-1.1V-3.2H1.1V-1.1H3.2V1.1H1.1V3.2H-1.1V1.1H-3.2Z" fill="#e74c3c"/></g>
<g transform="translate(467.5,352.2) rotate(45)"><path d="M-3.2,-1.1H-1.1V-3.2H1.1V-1.1H3.2V1.1H1.1V3.2H-1.1V1.1H-3.2Z" fill="#e74c3c"/></g>
<g transform="translate(475.0,349.7) rotate(45)"><path d="M-3.2,-1.1H-1.1V-3.2H1.1V-1.1H3.2V1.1H1.1V3.2H-1.1V1.1H-3.2Z" fill="#e74c3c"/></g>
<g transform="translate(477.5,344.5) rotate(45)"><path d="M-3.2,-1.1H-1.1V-3.2H1.1V-1.1H3.2V1.1H1.1V3.2H-1.1V1.1H-3.2Z" fill="#e74c3c"/></g>
<g transform="translate(487.5,339.2) rotate(45)"><path d="M-3.2,-1.1H-1.1V-3.2H1.1V-1.1H3.2V1.1H1.1V3.2H-1.1V1.1H-3.2Z" fill="#e74c3c"/></g>
<g transform="translate(495.2,336.8) rotate(45)"><path d="M-3.2,-1.1H-1.1V-3.2H1.1V-1.1H3.2V1.1H1.1V3.2H-1.1V1.1H-3.2Z" fill="#e74c3c"/></g>
<g transform="translate(501.2,334.3) rotate(45)"><path d="M-3.2,-1.1H-1.1V-3.2H1.1V-1.1H3.2V1.1H1.1V3.2H-1.1V1.1H-3.2Z" fill="#e74c3c"/></g>
<g transform="translate(502.5,326.5) rotate(45)"><path d="M-3.2,-1.1H-1.1V-3.2H1.1V-1.1H3.2V1.1H1.1V3.2H-1.1V1.1H-3.2Z" fill="#e74c3c"/></g>
<g transform="translate(506.0,324.0) rotate(45)"><path d="M-3.2,-1.1H-1.1V-3.2H1.1V-1.1H3.2V1.1H1.1V3.2H-1.1V1.1H-3.2Z" fill="#e74c3c"/></g>
<g transform="translate(511.0,324.0) rotate(45)"><path d="M-3.2,-1.1H-1.1V-3.2H1.1V-1.1H3.2V1.1H1.1V3.2H-1.1V1.1H-3.2Z" fill="#e74c3c"/></g>
<g transform="translate(505.0,352.2) rotate(45)"><path d="M-3.2,-1.1H-1.1V-3.2H1.1V-1.1H3.2V1.1H1.1V3.2H-1.1V1.1H-3.2Z" fill="#e74c3c"/></g>
<g transform="translate(534.5,300.5) rotate(45)"><path d="M-3.2,-1.1H-1.1V-3.2H1.1V-1.1H3.2V1.1H1.1V3.2H-1.1V1.1H-3.2Z" fill="#e74c3c"/></g>
<g transform="translate(536.5,292.8) rotate(45)"><path d="M-3.2,-1.1H-1.1V-3.2H1.1V-1.1H3.2V1.1H1.1V3.2H-1.1V1.1H-3.2Z" fill="#e74c3c"/></g>
<g transform="translate(547.5,329.2) rotate(45)"><path d="M-3.2,-1.1H-1.1V-3.2H1.1V-1.1H3.2V1.1H1.1V3.2H-1.1V1.1H-3.2Z" fill="#e74c3c"/></g>
<g transform="translate(567.3,254.2) rotate(45)"><path d="M-3.2,-1.1H-1.1V-3.2H1.1V-1.1H3.2V1.1H1.1V3.2H-1.1V1.1H-3.2Z" fill="#e74c3c"/></g>
<g transform="translate(559.5,259.0) rotate(45)"><path d="M-3.2,-1.1H-1.1V-3.2H1.1V-1.1H3.2V1.1H1.1V3.2H-1.1V1.1H-3.2Z" fill="#e74c3c"/></g>
<g transform="translate(563.0,259.5) rotate(45)"><path d="M-3.2,-1.1H-1.1V-3.2H1.1V-1.1H3.2V1.1H1.1V3.2H-1.1V1.1H-3.2Z" fill="#e74c3c"/></g>
<g transform="translate(537.2,272.2) rotate(45)"><path d="M-3.2,-1.1H-1.1V-3.2H1.1V-1.1H3.2V1.1H1.1V3.2H-1.1V1.1H-3.2Z" fill="#e74c3c"/></g>
<g transform="translate(549.7,272.2) rotate(45)"><path d="M-3.2,-1.1H-1.1V-3.2H1.1V-1.1H3.2V1.1H1.1V3.2H-1.1V1.1H-3.2Z" fill="#e74c3c"/></g>
<g transform="translate(557.2,272.2) rotate(45)"><path d="M-3.2,-1.1H-1.1V-3.2H1.1V-1.1H3.2V1.1H1.1V3.2H-1.1V1.1H-3.2Z" fill="#e74c3c"/></g>
<g transform="translate(542.5,282.0) rotate(45)"><path d="M-3.2,-1.1H-1.1V-3.2H1.1V-1.1H3.2V1.1H1.1V3.2H-1.1V1.1H-3.2Z" fill="#e74c3c"/></g>
<g transform="translate(543.0,285.5) rotate(45)"><path d="M-3.2,-1.1H-1.1V-3.2H1.1V-1.1H3.2V1.1H1.1V3.2H-1.1V1.1H-3.2Z" fill="#e74c3c"/></g>
<g transform="translate(547.5,285.0) rotate(45)"><path d="M-3.2,-1.1H-1.1V-3.2H1.1V-1.1H3.2V1.1H1.1V3.2H-1.1V1.1H-3.2Z" fill="#e74c3c"/></g>
<g transform="translate(534.0,288.0) rotate(45)"><path d="M-3.2,-1.1H-1.1V-3.2H1.1V-1.1H3.2V1.1H1.1V3.2H-1.1V1.1H-3.2Z" fill="#e74c3c"/></g>
<g transform="translate(579.0,186.8) rotate(45)"><path d="M-3.2,-1.1H-1.1V-3.2H1.1V-1.1H3.2V1.1H1.1V3.2H-1.1V1.1H-3.2Z" fill="#e74c3c"/></g>
<g transform="translate(597.0,207.8) rotate(45)"><path d="M-3.2,-1.1H-1.1V-3.2H1.1V-1.1H3.2V1.1H1.1V3.2H-1.1V1.1H-3.2Z" fill="#e74c3c"/></g>
<g transform="translate(597.0,220.5) rotate(45)"><path d="M-3.2,-1.1H-1.1V-3.2H1.1V-1.1H3.2V1.1H1.1V3.2H-1.1V1.1H-3.2Z" fill="#e74c3c"/></g>
<g transform="translate(584.2,155.8) rotate(45)"><path d="M-3.2,-1.1H-1.1V-3.2H1.1V-1.1H3.2V1.1H1.1V3.2H-1.1V1.1H-3.2Z" fill="#e74c3c"/></g>
<g transform="translate(600.0,155.8) rotate(45)"><path d="M-3.2,-1.1H-1.1V-3.2H1.1V-1.1H3.2V1.1H1.1V3.2H-1.1V1.1H-3.2Z" fill="#e74c3c"/></g>
<g transform="translate(612.0,236.0) rotate(45)"><path d="M-3.2,-1.1H-1.1V-3.2H1.1V-1.1H3.2V1.1H1.1V3.2H-1.1V1.1H-3.2Z" fill="#e74c3c"/></g>
<g transform="translate(600.5,238.0) rotate(45)"><path d="M-3.2,-1.1H-1.1V-3.2H1.1V-1.1H3.2V1.1H1.1V3.2H-1.1V1.1H-3.2Z" fill="#e74c3c"/></g>
<g transform="translate(598.5,243.5) rotate(45)"><path d="M-3.2,-1.1H-1.1V-3.2H1.1V-1.1H3.2V1.1H1.1V3.2H-1.1V1.1H-3.2Z" fill="#e74c3c"/></g>
<g transform="translate(602.0,243.0) rotate(45)"><path d="M-3.2,-1.1H-1.1V-3.2H1.1V-1.1H3.2V1.1H1.1V3.2H-1.1V1.1H-3.2Z" fill="#e74c3c"/></g>
<g transform="translate(604.5,246.0) rotate(45)"><path d="M-3.2,-1.1H-1.1V-3.2H1.1V-1.1H3.2V1.1H1.1V3.2H-1.1V1.1H-3.2Z" fill="#e74c3c"/></g>
<g transform="translate(601.5,249.0) rotate(45)"><path d="M-3.2,-1.1H-1.1V-3.2H1.1V-1.1H3.2V1.1H1.1V3.2H-1.1V1.1H-3.2Z" fill="#e74c3c"/></g>
<g transform="translate(612.5,246.5) rotate(45)"><path d="M-3.2,-1.1H-1.1V-3.2H1.1V-1.1H3.2V1.1H1.1V3.2H-1.1V1.1H-3.2Z" fill="#e74c3c"/></g>
<g transform="translate(606.5,252.0) rotate(45)"><path d="M-3.2,-1.1H-1.1V-3.2H1.1V-1.1H3.2V1.1H1.1V3.2H-1.1V1.1H-3.2Z" fill="#e74c3c"/></g>
<g transform="translate(605.0,256.0) rotate(45)"><path d="M-3.2,-1.1H-1.1V-3.2H1.1V-1.1H3.2V1.1H1.1V3.2H-1.1V1.1H-3.2Z" fill="#e74c3c"/></g>
<g transform="translate(606.0,259.5) rotate(45)"><path d="M-3.2,-1.1H-1.1V-3.2H1.1V-1.1H3.2V1.1H1.1V3.2H-1.1V1.1H-3.2Z" fill="#e74c3c"/></g>
<g transform="translate(611.0,269.5) rotate(45)"><path d="M-3.2,-1.1H-1.1V-3.2H1.1V-1.1H3.2V1.1H1.1V3.2H-1.1V1.1H-3.2Z" fill="#e74c3c"/></g>
<g transform="translate(605.0,272.0) rotate(45)"><path d="M-3.2,-1.1H-1.1V-3.2H1.1V-1.1H3.2V1.1H1.1V3.2H-1.1V1.1H-3.2Z" fill="#e74c3c"/></g>
<g transform="translate(609.0,273.0) rotate(45)"><path d="M-3.2,-1.1H-1.1V-3.2H1.1V-1.1H3.2V1.1H1.1V3.2H-1.1V1.1H-3.2Z" fill="#e74c3c"/></g>
<g transform="translate(612.0,272.0) rotate(45)"><path d="M-3.2,-1.1H-1.1V-3.2H1.1V-1.1H3.2V1.1H1.1V3.2H-1.1V1.1H-3.2Z" fill="#e74c3c"/></g>
<g transform="translate(611.0,277.0) rotate(45)"><path d="M-3.2,-1.1H-1.1V-3.2H1.1V-1.1H3.2V1.1H1.1V3.2H-1.1V1.1H-3.2Z" fill="#e74c3c"/></g>
<g transform="translate(610.0,280.5) rotate(45)"><path d="M-3.2,-1.1H-1.1V-3.2H1.1V-1.1H3.2V1.1H1.1V3.2H-1.1V1.1H-3.2Z" fill="#e74c3c"/></g>
<g transform="translate(616.5,277.5) rotate(45)"><path d="M-3.2,-1.1H-1.1V-3.2H1.1V-1.1H3.2V1.1H1.1V3.2H-1.1V1.1H-3.2Z" fill="#e74c3c"/></g>
<g transform="translate(614.5,283.0) rotate(45)"><path d="M-3.2,-1.1H-1.1V-3.2H1.1V-1.1H3.2V1.1H1.1V3.2H-1.1V1.1H-3.2Z" fill="#e74c3c"/></g>
<g transform="translate(618.0,284.5) rotate(45)"><path d="M-3.2,-1.1H-1.1V-3.2H1.1V-1.1H3.2V1.1H1.1V3.2H-1.1V1.1H-3.2Z" fill="#e74c3c"/></g>
<g transform="translate(620.5,285.0) rotate(45)"><path d="M-3.2,-1.1H-1.1V-3.2H1.1V-1.1H3.2V1.1H1.1V3.2H-1.1V1.1H-3.2Z" fill="#e74c3c"/></g>
<g transform="translate(613.0,285.5) rotate(45)"><path d="M-3.2,-1.1H-1.1V-3.2H1.1V-1.1H3.2V1.1H1.1V3.2H-1.1V1.1H-3.2Z" fill="#e74c3c"/></g>
<g transform="translate(607.5,291.5) rotate(45)"><path d="M-3.2,-1.1H-1.1V-3.2H1.1V-1.1H3.2V1.1H1.1V3.2H-1.1V1.1H-3.2Z" fill="#e74c3c"/></g>
<g transform="translate(610.0,291.0) rotate(45)"><path d="M-3.2,-1.1H-1.1V-3.2H1.1V-1.1H3.2V1.1H1.1V3.2H-1.1V1.1H-3.2Z" fill="#e74c3c"/></g>
<g transform="translate(622.0,291.0) rotate(45)"><path d="M-3.2,-1.1H-1.1V-3.2H1.1V-1.1H3.2V1.1H1.1V3.2H-1.1V1.1H-3.2Z" fill="#e74c3c"/></g>
<g transform="translate(616.5,298.0) rotate(45)"><path d="M-3.2,-1.1H-1.1V-3.2H1.1V-1.1H3.2V1.1H1.1V3.2H-1.1V1.1H-3.2Z" fill="#e74c3c"/></g>
<g transform="translate(607.5,308.5) rotate(45)"><path d="M-3.2,-1.1H-1.1V-3.2H1.1V-1.1H3.2V1.1H1.1V3.2H-1.1V1.1H-3.2Z" fill="#e74c3c"/></g>
<g transform="translate(640.0,311.0) rotate(45)"><path d="M-3.2,-1.1H-1.1V-3.2H1.1V-1.1H3.2V1.1H1.1V3.2H-1.1V1.1H-3.2Z" fill="#e74c3c"/></g>
<g transform="translate(622.0,313.5) rotate(45)"><path d="M-3.2,-1.1H-1.1V-3.2H1.1V-1.1H3.2V1.1H1.1V3.2H-1.1V1.1H-3.2Z" fill="#e74c3c"/></g>
<g transform="translate(626.0,316.0) rotate(45)"><path d="M-3.2,-1.1H-1.1V-3.2H1.1V-1.1H3.2V1.1H1.1V3.2H-1.1V1.1H-3.2Z" fill="#e74c3c"/></g>
<g transform="translate(626.5,326.5) rotate(45)"><path d="M-3.2,-1.1H-1.1V-3.2H1.1V-1.1H3.2V1.1H1.1V3.2H-1.1V1.1H-3.2Z" fill="#e74c3c"/></g>
<g transform="translate(628.5,329.0) rotate(45)"><path d="M-3.2,-1.1H-1.1V-3.2H1.1V-1.1H3.2V1.1H1.1V3.2H-1.1V1.1H-3.2Z" fill="#e74c3c"/></g>
<g transform="translate(631.5,334.0) rotate(45)"><path d="M-3.2,-1.1H-1.1V-3.2H1.1V-1.1H3.2V1.1H1.1V3.2H-1.1V1.1H-3.2Z" fill="#e74c3c"/></g>
<g transform="translate(636.5,337.0) rotate(45)"><path d="M-3.2,-1.1H-1.1V-3.2H1.1V-1.1H3.2V1.1H1.1V3.2H-1.1V1.1H-3.2Z" fill="#e74c3c"/></g>
<g transform="translate(637.0,341.0) rotate(45)"><path d="M-3.2,-1.1H-1.1V-3.2H1.1V-1.1H3.2V1.1H1.1V3.2H-1.1V1.1H-3.2Z" fill="#e74c3c"/></g>
<g transform="translate(633.0,342.0) rotate(45)"><path d="M-3.2,-1.1H-1.1V-3.2H1.1V-1.1H3.2V1.1H1.1V3.2H-1.1V1.1H-3.2Z" fill="#e74c3c"/></g>
<g transform="translate(642.5,342.0) rotate(45)"><path d="M-3.2,-1.1H-1.1V-3.2H1.1V-1.1H3.2V1.1H1.1V3.2H-1.1V1.1H-3.2Z" fill="#e74c3c"/></g>
<g transform="translate(652.0,347.0) rotate(45)"><path d="M-3.2,-1.1H-1.1V-3.2H1.1V-1.1H3.2V1.1H1.1V3.2H-1.1V1.1H-3.2Z" fill="#e74c3c"/></g>
<g transform="translate(642.5,351.5) rotate(45)"><path d="M-3.2,-1.1H-1.1V-3.2H1.1V-1.1H3.2V1.1H1.1V3.2H-1.1V1.1H-3.2Z" fill="#e74c3c"/></g>
<g transform="translate(648.5,352.5) rotate(45)"><path d="M-3.2,-1.1H-1.1V-3.2H1.1V-1.1H3.2V1.1H1.1V3.2H-1.1V1.1H-3.2Z" fill="#e74c3c"/></g>
<g transform="translate(682.5,360.0) rotate(45)"><path d="M-3.2,-1.1H-1.1V-3.2H1.1V-1.1H3.2V1.1H1.1V3.2H-1.1V1.1H-3.2Z" fill="#e74c3c"/></g>
<g transform="translate(642.5,370.5) rotate(45)"><path d="M-3.2,-1.1H-1.1V-3.2H1.1V-1.1H3.2V1.1H1.1V3.2H-1.1V1.1H-3.2Z" fill="#e74c3c"/></g>
<g transform="translate(662.0,375.5) rotate(45)"><path d="M-3.2,-1.1H-1.1V-3.2H1.1V-1.1H3.2V1.1H1.1V3.2H-1.1V1.1H-3.2Z" fill="#e74c3c"/></g>
<g transform="translate(692.5,380.5) rotate(45)"><path d="M-3.2,-1.1H-1.1V-3.2H1.1V-1.1H3.2V1.1H1.1V3.2H-1.1V1.1H-3.2Z" fill="#e74c3c"/></g>
<g transform="translate(672.5,386.0) rotate(45)"><path d="M-3.2,-1.1H-1.1V-3.2H1.1V-1.1H3.2V1.1H1.1V3.2H-1.1V1.1H-3.2Z" fill="#e74c3c"/></g>
<g transform="translate(645.0,388.5) rotate(45)"><path d="M-3.2,-1.1H-1.1V-3.2H1.1V-1.1H3.2V1.1H1.1V3.2H-1.1V1.1H-3.2Z" fill="#e74c3c"/></g>
<g transform="translate(677.7,393.5) rotate(45)"><path d="M-3.2,-1.1H-1.1V-3.2H1.1V-1.1H3.2V1.1H1.1V3.2H-1.1V1.1H-3.2Z" fill="#e74c3c"/></g>
<g transform="translate(707.5,417.0) rotate(45)"><path d="M-3.2,-1.1H-1.1V-3.2H1.1V-1.1H3.2V1.1H1.1V3.2H-1.1V1.1H-3.2Z" fill="#e74c3c"/></g>
<g transform="translate(712.0,414.5) rotate(45)"><path d="M-3.2,-1.1H-1.1V-3.2H1.1V-1.1H3.2V1.1H1.1V3.2H-1.1V1.1H-3.2Z" fill="#e74c3c"/></g>
<g transform="translate(717.0,414.5) rotate(45)"><path d="M-3.2,-1.1H-1.1V-3.2H1.1V-1.1H3.2V1.1H1.1V3.2H-1.1V1.1H-3.2Z" fill="#e74c3c"/></g>
<g transform="translate(776.2,445.0) rotate(45)"><path d="M-3.2,-1.1H-1.1V-3.2H1.1V-1.1H3.2V1.1H1.1V3.2H-1.1V1.1H-3.2Z" fill="#e74c3c"/></g>
<g transform="translate(790.5,442.8) rotate(45)"><path d="M-3.2,-1.1H-1.1V-3.2H1.1V-1.1H3.2V1.1H1.1V3.2H-1.1V1.1H-3.2Z" fill="#e74c3c"/></g>
<g transform="translate(777.0,458.5) rotate(45)"><path d="M-3.2,-1.1H-1.1V-3.2H1.1V-1.1H3.2V1.1H1.1V3.2H-1.1V1.1H-3.2Z" fill="#e74c3c"/></g>
<g transform="translate(802.0,463.5) rotate(45)"><path d="M-3.2,-1.1H-1.1V-3.2H1.1V-1.1H3.2V1.1H1.1V3.2H-1.1V1.1H-3.2Z" fill="#e74c3c"/></g>
<g transform="translate(841.7,442.5) rotate(45)"><path d="M-3.2,-1.1H-1.1V-3.2H1.1V-1.1H3.2V1.1H1.1V3.2H-1.1V1.1H-3.2Z" fill="#e74c3c"/></g>
<g transform="translate(821.5,458.0) rotate(45)"><path d="M-3.2,-1.1H-1.1V-3.2H1.1V-1.1H3.2V1.1H1.1V3.2H-1.1V1.1H-3.2Z" fill="#e74c3c"/></g>
<g transform="translate(861.2,460.5) rotate(45)"><path d="M-3.2,-1.1H-1.1V-3.2H1.1V-1.1H3.2V1.1H1.1V3.2H-1.1V1.1H-3.2Z" fill="#e74c3c"/></g>
<g transform="translate(880.0,484.0) rotate(45)"><path d="M-3.2,-1.1H-1.1V-3.2H1.1V-1.1H3.2V1.1H1.1V3.2H-1.1V1.1H-3.2Z" fill="#e74c3c"/></g>
<g transform="translate(946.0,497.2) rotate(45)"><path d="M-3.2,-1.1H-1.1V-3.2H1.1V-1.1H3.2V1.1H1.1V3.2H-1.1V1.1H-3.2Z" fill="#e74c3c"/></g>
<g transform="translate(991.0,504.0) rotate(45)"><path d="M-3.2,-1.1H-1.1V-3.2H1.1V-1.1H3.2V1.1H1.1V3.2H-1.1V1.1H-3.2Z" fill="#e74c3c"/></g>
<circle cx="650.1" cy="357.5" r="2.6" fill="#e74c3c"/>
<line x1="523.5" y1="75" x2="523.5" y2="525.5" stroke="#e74c3c" stroke-width="1"/>
<path d="M81.0,483.8C87.5,482.9 106.8,480.5 120.0,478.4C133.2,476.3 146.7,473.9 160.0,471.2C173.3,468.5 186.7,465.3 200.0,462.0C213.3,458.7 226.7,455.6 240.0,451.6C253.3,447.6 270.0,441.5 280.0,438.0C290.0,434.5 294.8,432.4 300.0,430.4C305.2,428.4 305.2,428.5 311.0,426.2C316.8,423.9 326.3,420.6 335.0,416.8C343.7,413.0 353.8,408.3 363.0,403.4C372.2,398.5 381.3,392.9 390.0,387.4C398.7,381.9 406.7,376.7 415.4,370.3C424.1,363.9 435.5,354.7 442.1,349.2C448.7,343.7 449.4,342.4 454.8,337.2C460.2,332.0 467.0,325.1 474.5,318.2C482.0,311.3 494.1,300.8 500.0,295.6C505.9,290.4 506.2,289.9 510.0,287.0C513.8,284.1 518.8,280.5 523.0,278.0C527.2,275.5 530.5,273.6 535.0,272.0C539.5,270.4 545.2,269.2 550.0,268.5C554.8,267.8 559.8,267.8 564.0,267.8C568.2,267.9 571.5,268.1 575.0,268.8C578.5,269.5 581.7,270.5 585.0,271.8C588.3,273.1 592.5,275.4 595.0,276.8C597.5,278.2 597.5,278.1 600.0,280.0C602.5,281.9 606.7,285.1 610.0,288.0C613.3,290.9 616.7,294.3 620.0,297.5C623.3,300.7 625.0,301.8 630.0,307.0C635.0,312.2 643.3,322.0 650.0,329.0C656.7,336.0 664.2,343.3 670.0,349.0C675.8,354.7 680.0,358.4 685.0,363.0C690.0,367.6 695.0,372.3 700.0,376.5C705.0,380.7 710.0,384.2 715.0,388.0C720.0,391.8 724.2,395.0 730.0,399.0C735.8,403.0 743.3,407.8 750.0,412.0C756.7,416.2 763.3,420.3 770.0,424.0C776.7,427.7 783.3,430.7 790.0,434.0C796.7,437.3 803.3,440.8 810.0,444.0C816.7,447.2 823.3,450.6 830.0,453.5C836.7,456.4 843.3,458.9 850.0,461.5C856.7,464.1 863.3,466.6 870.0,469.0C876.7,471.4 883.3,473.6 890.0,476.0C896.7,478.4 903.3,481.2 910.0,483.5C916.7,485.8 923.3,487.5 930.0,489.5C936.7,491.5 943.3,493.6 950.0,495.5C956.7,497.4 963.3,499.2 970.0,501.0C976.7,502.8 985.0,504.8 990.0,506.0C995.0,507.2 994.6,507.2 1000.0,508.5C1005.4,509.8 1018.8,513.1 1022.5,514.0" fill="none" stroke="#f39c12" stroke-width="1.4"/><path d="M81.0,497.6C87.5,496.4 106.8,493.1 120.0,490.4C133.2,487.7 146.7,484.7 160.0,481.4C173.3,478.1 186.7,474.6 200.0,470.4C213.3,466.2 228.0,460.7 240.0,456.0C252.0,451.3 263.7,446.0 272.0,442.4C280.3,438.8 285.3,436.6 290.0,434.4C294.7,432.2 296.5,431.0 300.0,429.0C303.5,427.0 305.7,425.6 311.0,422.6C316.3,419.6 325.2,415.1 332.0,411.2C338.8,407.3 345.7,403.3 352.0,399.4C358.3,395.5 363.0,392.2 370.0,387.6C377.0,383.0 385.7,376.9 394.0,371.6C402.3,366.3 411.0,360.4 420.0,355.6C429.0,350.8 439.7,346.6 448.0,343.0C456.3,339.4 464.0,336.6 470.0,334.0C476.0,331.4 479.0,330.4 484.0,327.6C489.0,324.8 494.3,320.8 500.0,317.0C505.7,313.2 513.3,309.2 518.0,305.0C522.7,300.8 525.3,295.3 528.0,292.0C530.7,288.7 531.7,288.2 534.0,285.0C536.3,281.8 539.5,277.1 542.0,273.0C544.5,268.9 547.0,264.2 549.0,260.5C551.0,256.8 552.3,254.2 554.0,250.5C555.7,246.8 557.4,242.2 559.0,238.0C560.6,233.8 562.4,229.2 563.5,225.5C564.6,221.8 564.8,219.6 565.5,216.0C566.2,212.4 567.0,207.8 567.7,204.0C568.4,200.2 569.1,196.7 569.8,193.0C570.5,189.3 571.2,185.7 571.8,182.0C572.4,178.3 573.0,174.7 573.5,171.0C574.0,167.3 574.3,164.7 575.0,160.0C575.7,155.3 576.8,148.3 577.5,143.0C578.2,137.7 578.9,132.0 579.5,128.0C580.1,124.0 580.5,121.4 581.0,119.0C581.5,116.6 581.9,114.7 582.2,113.5C582.5,112.3 582.7,111.9 583.0,112.0C583.3,112.1 583.5,112.5 583.8,114.0C584.1,115.5 584.4,118.0 584.8,121.0C585.2,124.0 585.5,128.0 586.0,132.0C586.5,136.0 587.0,140.5 587.5,145.0C588.0,149.5 588.6,154.7 589.1,159.0C589.6,163.3 590.0,167.2 590.4,171.0C590.8,174.8 591.2,178.2 591.7,182.0C592.2,185.8 592.7,190.0 593.2,194.0C593.8,198.0 594.4,202.0 595.0,206.0C595.6,210.0 596.4,214.3 597.1,218.0C597.8,221.7 598.3,224.3 599.0,228.0C599.7,231.7 600.8,236.7 601.5,240.0C602.2,243.3 602.8,245.3 603.5,248.0C604.2,250.7 604.9,253.5 605.5,256.0C606.1,258.5 606.6,260.7 607.3,263.0C608.0,265.3 608.8,267.7 609.5,270.0C610.2,272.3 610.8,274.7 611.5,277.0C612.2,279.3 612.8,281.7 613.5,284.0C614.2,286.3 614.9,288.0 616.0,291.0C617.1,294.0 618.0,297.7 620.0,302.0C622.0,306.3 625.7,312.5 628.0,317.0C630.3,321.5 632.0,325.2 634.0,329.0C636.0,332.8 637.7,335.8 640.0,339.5C642.3,343.2 645.0,347.4 648.0,351.5C651.0,355.6 654.8,360.2 658.0,364.0C661.2,367.8 663.8,370.7 667.0,374.0C670.2,377.3 673.7,380.9 677.0,384.0C680.3,387.1 683.7,389.7 687.0,392.5C690.3,395.3 693.7,398.2 697.0,401.0C700.3,403.8 702.3,405.8 707.0,409.0C711.7,412.2 718.8,416.4 725.0,420.0C731.2,423.6 737.3,427.2 744.0,430.5C750.7,433.8 758.2,436.9 765.0,440.0C771.8,443.1 779.2,446.6 785.0,449.0C790.8,451.4 795.8,452.9 800.0,454.5C804.2,456.1 805.0,456.9 810.0,458.5C815.0,460.1 823.3,462.1 830.0,464.0C836.7,465.9 843.3,468.1 850.0,470.0C856.7,471.9 863.3,473.8 870.0,475.5C876.7,477.2 883.3,478.5 890.0,480.0C896.7,481.5 903.3,483.1 910.0,484.5C916.7,485.9 923.3,487.1 930.0,488.5C936.7,489.9 943.3,491.7 950.0,493.0C956.7,494.3 963.3,495.3 970.0,496.5C976.7,497.7 985.0,499.1 990.0,500.0C995.0,500.9 994.6,501.0 1000.0,502.0C1005.4,503.0 1018.8,505.2 1022.5,505.8" fill="none" stroke="#f39c12" stroke-width="1.5" stroke-dasharray="3.75,3.75"/>
</g>
<line x1="80.6" y1="75" x2="80.6" y2="527.5" stroke="#ffffff" stroke-width="1.3"/>
<line x1="80" y1="526.5" x2="1023" y2="526.5" stroke="#ffffff" stroke-width="2"/>
<text x="78" y="82.7" text-anchor="end" font-size="14" fill="#ffffff">−6.0</text>
<text x="78" y="134.3" text-anchor="end" font-size="14" fill="#ffffff">−4.0</text>
<text x="78" y="186.0" text-anchor="end" font-size="14" fill="#ffffff">−2.0</text>
<text x="78" y="237.7" text-anchor="end" font-size="14" fill="#ffffff">0.0</text>
<text x="78" y="289.4" text-anchor="end" font-size="14" fill="#ffffff">2.0</text>
<text x="78" y="341.1" text-anchor="end" font-size="14" fill="#ffffff">4.0</text>
<text x="78" y="392.7" text-anchor="end" font-size="14" fill="#ffffff">6.0</text>
<text x="78" y="444.4" text-anchor="end" font-size="14" fill="#ffffff">8.0</text>
<text x="78" y="496.1" text-anchor="end" font-size="14" fill="#ffffff">10.0</text>
<text x="84.6" y="546.3" text-anchor="middle" font-size="15" fill="#ffffff">Jul 2024</text>
<text x="239.2" y="546.3" text-anchor="middle" font-size="15" fill="#ffffff">Aug 2024</text>
<text x="393.9" y="546.3" text-anchor="middle" font-size="15" fill="#ffffff">Sep 2024</text>
<text x="543.5" y="546.3" text-anchor="middle" font-size="15" fill="#ffffff">Oct 2024</text>
<text x="698.1" y="546.3" text-anchor="middle" font-size="15" fill="#ffffff">Nov 2024</text>
<text x="847.8" y="546.3" text-anchor="middle" font-size="15" fill="#ffffff">Dec 2024</text>
<text x="1002.4" y="546.3" text-anchor="middle" font-size="15" fill="#ffffff">Jan 2025</text>
<text transform="translate(40,301) rotate(-90)" text-anchor="middle" font-size="14" letter-spacing="0.45" fill="#ffffff">Apparent total magnitude</text>
<text x="85" y="46" font-size="11.2" fill="#ffffff" stroke="#ffffff" stroke-width="0.25">Simple fit: H<tspan font-size="8" dy="2">0</tspan><tspan dy="-2">=5.7; n=3.7;</tspan></text>
<text x="85" y="60" font-size="11.2" fill="#ffffff" stroke="#ffffff" stroke-width="0.25">Scatter fit: H<tspan font-size="8" dy="2">0</tspan><tspan dy="-2">=6.8; n=3.9; δ</tspan><tspan font-size="8" dy="2">90</tspan><tspan dy="-2">=3; gf=0.96; gb=-0.65; k=0.80</tspan></text>
<text x="1017" y="514.8" text-anchor="end" font-size="15" fill="#ffffff">COBS @ Crni Vrh Observatory</text>
<!--LEGEND-->
<g id="legend" font-size="12.6" fill="#ffffff" stroke="#ffffff" stroke-width="0.2">
<text x="204.4" y="620.9">Visual</text>
<text x="296.4" y="620.9">CCD</text>
<text x="382" y="620.9">Uncertain</text>
<text x="493.2" y="620.9">Reported Issue</text>
<text x="636.8" y="620.9">Simple fit</text>
<text x="746.4" y="620.9">Scatter fit</text>
<text x="857" y="620.9">Perihelion date</text>
</g>
<line x1="593" y1="616.3" x2="630" y2="616.3" stroke="#f39c12" stroke-width="1.5"/>
<line x1="702.8" y1="616.3" x2="737" y2="616.3" stroke="#f39c12" stroke-width="1.5" stroke-dasharray="4,3.3"/>
<line x1="814" y1="616.3" x2="851" y2="616.3" stroke="#e74c3c" stroke-width="1.5"/>
<g id="lmarks"><path d="M175.8,615.1H177.8V613.1H180.2V615.1H182.2V617.4H180.2V619.5H177.8V617.4H175.8Z" fill="#ffffff"/><path d="M268.1,615.1H270.2V613.1H272.4V615.1H274.5V617.4H272.4V619.5H270.2V617.4H268.1Z" fill="#00bc8c"/><g transform="translate(356.0,616.3) rotate(45)"><path d="M-3.2,-1.1H-1.1V-3.2H1.1V-1.1H3.2V1.1H1.1V3.2H-1.1V1.1H-3.2Z" fill="#e74c3c"/></g><circle cx="468" cy="616.3" r="2.6" fill="#e74c3c"/></g>
<rect x="970" y="650" width="54" height="38" rx="4" fill="#446893"/>
<rect x="1028" y="650" width="51" height="38" rx="4" fill="#446893"/>
<text x="982.2" y="674.9" font-size="15.5" textLength="30.6" lengthAdjust="spacingAndGlyphs" fill="#ffffff">PNG</text>
<text x="1040.2" y="674.9" font-size="15.5" textLength="28.3" lengthAdjust="spacingAndGlyphs" fill="#ffffff">SVG</text>
<text x="907" y="673.4" font-size="19" fill="#ffffff">Export:</text>
</svg>
</body></html>
